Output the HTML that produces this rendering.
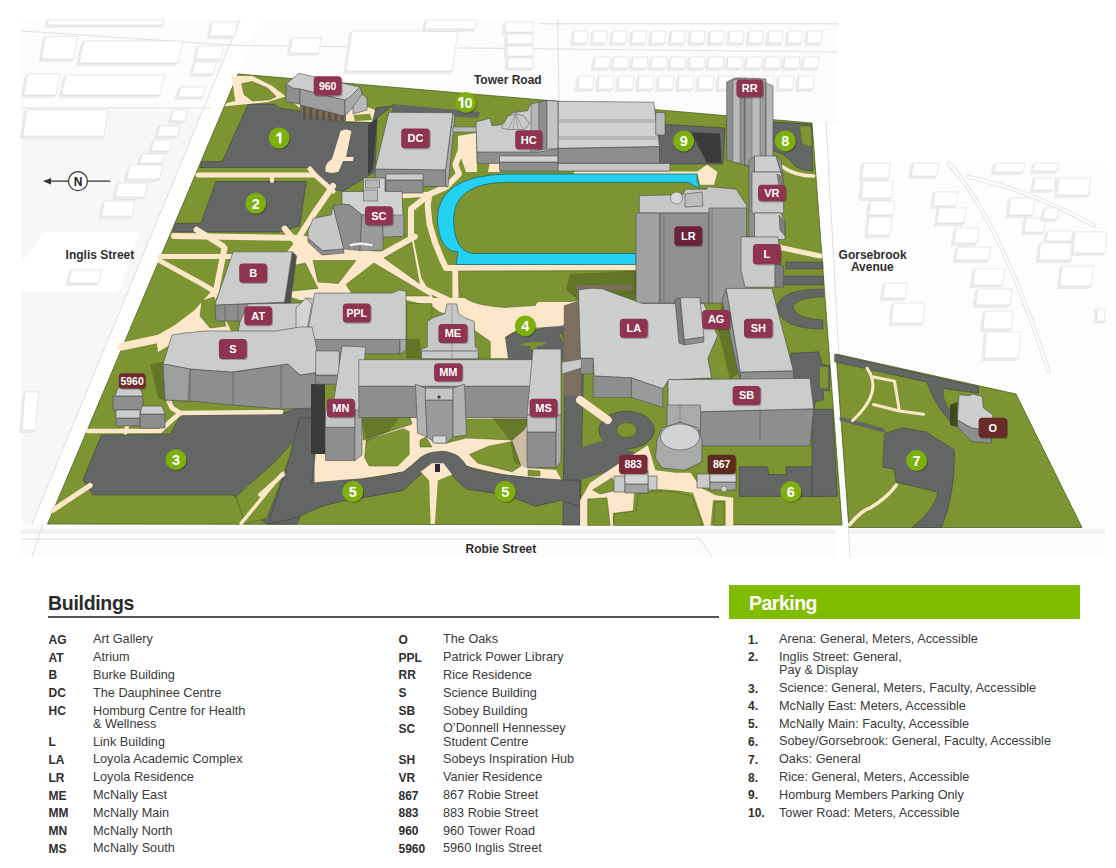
<!DOCTYPE html>
<html><head><meta charset="utf-8">
<style>
html,body{margin:0;padding:0;background:#fff;}
body{width:1116px;height:868px;position:relative;overflow:hidden;font-family:"Liberation Sans",sans-serif;color:#333;}
#map{position:absolute;left:0;top:0;}
.t{position:absolute;white-space:nowrap;font-size:12.7px;line-height:13.3px;color:#3a3a3a;}
.c{position:absolute;white-space:nowrap;font-size:12px;font-weight:bold;line-height:13.3px;color:#2e2e2e;}
.h{position:absolute;font-weight:bold;white-space:nowrap;}
</style></head><body>
<svg id="map" width="1116" height="575" viewBox="0 0 1116 575" font-family="'Liberation Sans', sans-serif">
<!--MAP-->
<rect x="22" y="20" width="1083" height="537" rx="0" fill="#f7f7f7"/>
<rect x="838" y="0" width="280" height="163" rx="0" fill="#ffffff"/>
<polygon points="812,125 838,125 838,163 826,163" fill="#ffffff"/>
<polygon points="22,20 838,20 838,125 22,109" fill="#fcfcfc"/>
<polygon points="828,163 1105,163 1105,557 850,557" fill="#fdfdfd"/>
<rect x="22" y="524" width="1083" height="33" rx="0" fill="#fcfcfc"/>
<path d="M22,530 L1105,530" fill="none" stroke="#dedede" stroke-width="0.8" stroke-linejoin="round" stroke-linecap="round"/>
<path d="M22,532.5 L1105,532.5" fill="none" stroke="#dedede" stroke-width="0.8" stroke-linejoin="round" stroke-linecap="round"/>
<path d="M22,539 L700,539" fill="none" stroke="#dedede" stroke-width="1" stroke-linejoin="round" stroke-linecap="round"/>
<path d="M700,539 L712,557" fill="none" stroke="#dedede" stroke-width="1" stroke-linejoin="round" stroke-linecap="round"/>
<path d="M43,524 L32,557" fill="none" stroke="#dedede" stroke-width="1" stroke-linejoin="round" stroke-linecap="round"/>
<polygon points="240,20 261,20 47.5,524 32,524" fill="#ffffff"/>
<path d="M240,20 L32,524" fill="none" stroke="#dedede" stroke-width="1" stroke-linejoin="round" stroke-linecap="round"/>
<polygon points="45,232 138,232 118,292 22,292 22,262" fill="#ffffff"/>
<path d="M22,31 L238,45.5" fill="none" stroke="#dedede" stroke-width="1" stroke-linejoin="round" stroke-linecap="round"/>
<path d="M22,108 L212,108" fill="none" stroke="#dedede" stroke-width="1" stroke-linejoin="round" stroke-linecap="round"/>
<path d="M238,45.5 L838,52" fill="none" stroke="#dedede" stroke-width="1" stroke-linejoin="round" stroke-linecap="round"/>
<path d="M540,23.8 L838,23.8" fill="none" stroke="#dedede" stroke-width="1" stroke-linejoin="round" stroke-linecap="round"/>
<path d="M557.7,20 L559,100" fill="none" stroke="#dedede" stroke-width="1" stroke-linejoin="round" stroke-linecap="round"/>
<polygon points="812,122 826,122 850,557 836,557" fill="#ffffff"/>
<path d="M826,122 L850,557" fill="none" stroke="#dedede" stroke-width="1" stroke-linejoin="round" stroke-linecap="round"/>
<path d="M948.6,162.9 Q1000,220 1048.6,371.4" fill="none" stroke="#dedede" stroke-width="4" stroke-linejoin="round" stroke-linecap="round"/>
<path d="M948.6,162.9 Q1000,220 1048.6,371.4" fill="none" stroke="#ffffff" stroke-width="2.4" stroke-linejoin="round" stroke-linecap="round"/>
<path d="M968.6,177 Q1030,190 1094,225.7" fill="none" stroke="#dedede" stroke-width="4" stroke-linejoin="round" stroke-linecap="round"/>
<path d="M968.6,177 Q1030,190 1094,225.7" fill="none" stroke="#ffffff" stroke-width="2.4" stroke-linejoin="round" stroke-linecap="round"/>
<polygon points="48,20 45.5,22.5 45.5,27.5 160.5,27.5 163,25 48,25" fill="#ededed" stroke="#dedede" stroke-width="0.5" stroke-linejoin="round"/>
<polygon points="48,20 163,20 163,25 48,25" fill="#ffffff" stroke="#dedede" stroke-width="0.7" stroke-linejoin="round"/>
<polygon points="45.5,36.5 43.0,39.0 39.0,61.5 71.3,61.5 73.8,59 41.5,59" fill="#ededed" stroke="#dedede" stroke-width="0.5" stroke-linejoin="round"/>
<polygon points="45.5,36.5 77.8,36.5 73.8,59 41.5,59" fill="#ffffff" stroke="#dedede" stroke-width="0.7" stroke-linejoin="round"/>
<polygon points="84,41 81.5,43.5 76.5,65.5 175.5,65.5 178,63 79,63" fill="#ededed" stroke="#dedede" stroke-width="0.5" stroke-linejoin="round"/>
<polygon points="84,41 183,41 178,63 79,63" fill="#ffffff" stroke="#dedede" stroke-width="0.7" stroke-linejoin="round"/>
<polygon points="27.6,74 25.1,76.5 21.1,97.5 53.5,97.5 56,95 23.6,95" fill="#ededed" stroke="#dedede" stroke-width="0.5" stroke-linejoin="round"/>
<polygon points="27.6,74 60,74 56,95 23.6,95" fill="#ffffff" stroke="#dedede" stroke-width="0.7" stroke-linejoin="round"/>
<polygon points="66.2,75 63.7,77.5 58.7,97.5 157.3,97.5 159.8,95 61.2,95" fill="#ededed" stroke="#dedede" stroke-width="0.5" stroke-linejoin="round"/>
<polygon points="66.2,75 164.8,75 159.8,95 61.2,95" fill="#ffffff" stroke="#dedede" stroke-width="0.7" stroke-linejoin="round"/>
<polygon points="198.6,46 196.1,48.5 193.1,61.5 218.2,61.5 220.7,59 195.6,59" fill="#ededed" stroke="#dedede" stroke-width="0.5" stroke-linejoin="round"/>
<polygon points="198.6,46 223.7,46 220.7,59 195.6,59" fill="#ffffff" stroke="#dedede" stroke-width="0.7" stroke-linejoin="round"/>
<polygon points="195,62 192.5,64.5 189.5,76.5 211.0,76.5 213.5,74 192,74" fill="#ededed" stroke="#dedede" stroke-width="0.5" stroke-linejoin="round"/>
<polygon points="195,62 216.5,62 213.5,74 192,74" fill="#ffffff" stroke="#dedede" stroke-width="0.7" stroke-linejoin="round"/>
<polygon points="180.7,87 178.2,89.5 175.2,99.5 200.3,99.5 202.8,97 177.7,97" fill="#ededed" stroke="#dedede" stroke-width="0.5" stroke-linejoin="round"/>
<polygon points="180.7,87 205.8,87 202.8,97 177.7,97" fill="#ffffff" stroke="#dedede" stroke-width="0.7" stroke-linejoin="round"/>
<polygon points="173.5,110 171.0,112.5 168.0,123.5 182.4,123.5 184.9,121 170.5,121" fill="#ededed" stroke="#dedede" stroke-width="0.5" stroke-linejoin="round"/>
<polygon points="173.5,110 187.9,110 184.9,121 170.5,121" fill="#ffffff" stroke="#dedede" stroke-width="0.7" stroke-linejoin="round"/>
<polygon points="165.4,126 162.9,128.5 160.9,136.5 175.2,136.5 177.7,134 163.4,134" fill="#ededed" stroke="#dedede" stroke-width="0.5" stroke-linejoin="round"/>
<polygon points="165.4,126 179.7,126 177.7,134 163.4,134" fill="#ffffff" stroke="#dedede" stroke-width="0.7" stroke-linejoin="round"/>
<polygon points="26.8,110 24.3,112.5 20.3,138.5 101.5,138.5 104,136 22.8,136" fill="#ededed" stroke="#dedede" stroke-width="0.5" stroke-linejoin="round"/>
<polygon points="26.8,110 108,110 104,136 22.8,136" fill="#ffffff" stroke="#dedede" stroke-width="0.7" stroke-linejoin="round"/>
<polygon points="160,126 157.5,128.5 154.5,138.5 174.9,138.5 177.4,136 157,136" fill="#ededed" stroke="#dedede" stroke-width="0.5" stroke-linejoin="round"/>
<polygon points="160,126 180.4,126 177.4,136 157,136" fill="#ffffff" stroke="#dedede" stroke-width="0.7" stroke-linejoin="round"/>
<polygon points="153.8,140 151.3,142.5 148.3,153.5 167.3,153.5 169.8,151 150.8,151" fill="#ededed" stroke="#dedede" stroke-width="0.5" stroke-linejoin="round"/>
<polygon points="153.8,140 172.8,140 169.8,151 150.8,151" fill="#ffffff" stroke="#dedede" stroke-width="0.7" stroke-linejoin="round"/>
<polygon points="142.4,154 139.9,156.5 136.9,165.5 159.7,165.5 162.2,163 139.4,163" fill="#ededed" stroke="#dedede" stroke-width="0.5" stroke-linejoin="round"/>
<polygon points="142.4,154 165.2,154 162.2,163 139.4,163" fill="#ffffff" stroke="#dedede" stroke-width="0.7" stroke-linejoin="round"/>
<polygon points="129.7,165 127.19999999999999,167.5 124.2,181.5 157.2,181.5 159.7,179 126.7,179" fill="#ededed" stroke="#dedede" stroke-width="0.5" stroke-linejoin="round"/>
<polygon points="129.7,165 162.7,165 159.7,179 126.7,179" fill="#ffffff" stroke="#dedede" stroke-width="0.7" stroke-linejoin="round"/>
<polygon points="118.3,183 115.8,185.5 112.8,199.5 142.0,199.5 144.5,197 115.3,197" fill="#ededed" stroke="#dedede" stroke-width="0.5" stroke-linejoin="round"/>
<polygon points="118.3,183 147.5,183 144.5,197 115.3,197" fill="#ffffff" stroke="#dedede" stroke-width="0.7" stroke-linejoin="round"/>
<polygon points="104.4,201 101.9,203.5 98.9,218.5 129.3,218.5 131.8,216 101.4,216" fill="#ededed" stroke="#dedede" stroke-width="0.5" stroke-linejoin="round"/>
<polygon points="104.4,201 134.8,201 131.8,216 101.4,216" fill="#ffffff" stroke="#dedede" stroke-width="0.7" stroke-linejoin="round"/>
<polygon points="71.4,270 68.9,272.5 65.9,285.5 96.3,285.5 98.8,283 68.4,283" fill="#ededed" stroke="#dedede" stroke-width="0.5" stroke-linejoin="round"/>
<polygon points="71.4,270 101.8,270 98.8,283 68.4,283" fill="#ffffff" stroke="#dedede" stroke-width="0.7" stroke-linejoin="round"/>
<polygon points="25,392 22.5,394.5 19.5,432.5 33.0,432.5 35.5,430 22,430" fill="#ededed" stroke="#dedede" stroke-width="0.5" stroke-linejoin="round"/>
<polygon points="25,392 38.5,392 35.5,430 22,430" fill="#ffffff" stroke="#dedede" stroke-width="0.7" stroke-linejoin="round"/>
<polygon points="212,22 209.5,24.5 207.5,38.5 232.5,38.5 235,36 210,36" fill="#ededed" stroke="#dedede" stroke-width="0.5" stroke-linejoin="round"/>
<polygon points="212,22 237,22 235,36 210,36" fill="#ffffff" stroke="#dedede" stroke-width="0.7" stroke-linejoin="round"/>
<polygon points="292,38 289.5,40.5 287.5,55.5 316.5,55.5 319,53 290,53" fill="#ededed" stroke="#dedede" stroke-width="0.5" stroke-linejoin="round"/>
<polygon points="292,38 321,38 319,53 290,53" fill="#ffffff" stroke="#dedede" stroke-width="0.7" stroke-linejoin="round"/>
<polygon points="352,31 349.5,33.5 343.5,73.5 449.5,73.5 452,71 346,71" fill="#ededed" stroke="#dedede" stroke-width="0.5" stroke-linejoin="round"/>
<polygon points="352,31 458,31 452,71 346,71" fill="#ffffff" stroke="#dedede" stroke-width="0.7" stroke-linejoin="round"/>
<polygon points="426.5,20 424.0,22.5 422.0,31.5 472.5,31.5 475,29 424.5,29" fill="#ededed" stroke="#dedede" stroke-width="0.5" stroke-linejoin="round"/>
<polygon points="426.5,20 477,20 475,29 424.5,29" fill="#ffffff" stroke="#dedede" stroke-width="0.7" stroke-linejoin="round"/>
<polygon points="505.5,22 503.0,24.5 503.0,34.5 530.5,34.5 533,32 505.5,32" fill="#ededed" stroke="#dedede" stroke-width="0.5" stroke-linejoin="round"/>
<polygon points="505.5,22 533,22 533,32 505.5,32" fill="#ffffff" stroke="#dedede" stroke-width="0.7" stroke-linejoin="round"/>
<polygon points="507,34 504.5,36.5 504.5,46.5 530.5,46.5 533,44 507,44" fill="#ededed" stroke="#dedede" stroke-width="0.5" stroke-linejoin="round"/>
<polygon points="507,34 533,34 533,44 507,44" fill="#ffffff" stroke="#dedede" stroke-width="0.7" stroke-linejoin="round"/>
<polygon points="507,46 504.5,48.5 504.5,58.5 530.5,58.5 533,56 507,56" fill="#ededed" stroke="#dedede" stroke-width="0.5" stroke-linejoin="round"/>
<polygon points="507,46 533,46 533,56 507,56" fill="#ffffff" stroke="#dedede" stroke-width="0.7" stroke-linejoin="round"/>
<polygon points="508,58 505.5,60.5 505.5,70.5 530.5,70.5 533,68 508,68" fill="#ededed" stroke="#dedede" stroke-width="0.5" stroke-linejoin="round"/>
<polygon points="508,58 533,58 533,68 508,68" fill="#ffffff" stroke="#dedede" stroke-width="0.7" stroke-linejoin="round"/>
<polygon points="574.0,31 571.5,33.5 570.5,45.5 584.5,45.5 587.0,43 573.0,43" fill="#ededed" stroke="#dedede" stroke-width="0.5" stroke-linejoin="round"/>
<polygon points="574.0,31 588.0,31 587.0,43 573.0,43" fill="#ffffff" stroke="#dedede" stroke-width="0.7" stroke-linejoin="round"/>
<polygon points="593.5,31 591.0,33.5 590.0,45.5 604.0,45.5 606.5,43 592.5,43" fill="#ededed" stroke="#dedede" stroke-width="0.5" stroke-linejoin="round"/>
<polygon points="593.5,31 607.5,31 606.5,43 592.5,43" fill="#ffffff" stroke="#dedede" stroke-width="0.7" stroke-linejoin="round"/>
<polygon points="613.0,31 610.5,33.5 609.5,45.5 623.5,45.5 626.0,43 612.0,43" fill="#ededed" stroke="#dedede" stroke-width="0.5" stroke-linejoin="round"/>
<polygon points="613.0,31 627.0,31 626.0,43 612.0,43" fill="#ffffff" stroke="#dedede" stroke-width="0.7" stroke-linejoin="round"/>
<polygon points="632.5,31 630.0,33.5 629.0,45.5 643.0,45.5 645.5,43 631.5,43" fill="#ededed" stroke="#dedede" stroke-width="0.5" stroke-linejoin="round"/>
<polygon points="632.5,31 646.5,31 645.5,43 631.5,43" fill="#ffffff" stroke="#dedede" stroke-width="0.7" stroke-linejoin="round"/>
<polygon points="652.0,31 649.5,33.5 648.5,45.5 662.5,45.5 665.0,43 651.0,43" fill="#ededed" stroke="#dedede" stroke-width="0.5" stroke-linejoin="round"/>
<polygon points="652.0,31 666.0,31 665.0,43 651.0,43" fill="#ffffff" stroke="#dedede" stroke-width="0.7" stroke-linejoin="round"/>
<polygon points="671.5,31 669.0,33.5 668.0,45.5 682.0,45.5 684.5,43 670.5,43" fill="#ededed" stroke="#dedede" stroke-width="0.5" stroke-linejoin="round"/>
<polygon points="671.5,31 685.5,31 684.5,43 670.5,43" fill="#ffffff" stroke="#dedede" stroke-width="0.7" stroke-linejoin="round"/>
<polygon points="691.0,31 688.5,33.5 687.5,45.5 701.5,45.5 704.0,43 690.0,43" fill="#ededed" stroke="#dedede" stroke-width="0.5" stroke-linejoin="round"/>
<polygon points="691.0,31 705.0,31 704.0,43 690.0,43" fill="#ffffff" stroke="#dedede" stroke-width="0.7" stroke-linejoin="round"/>
<polygon points="710.5,31 708.0,33.5 707.0,45.5 721.0,45.5 723.5,43 709.5,43" fill="#ededed" stroke="#dedede" stroke-width="0.5" stroke-linejoin="round"/>
<polygon points="710.5,31 724.5,31 723.5,43 709.5,43" fill="#ffffff" stroke="#dedede" stroke-width="0.7" stroke-linejoin="round"/>
<polygon points="730.0,31 727.5,33.5 726.5,45.5 740.5,45.5 743.0,43 729.0,43" fill="#ededed" stroke="#dedede" stroke-width="0.5" stroke-linejoin="round"/>
<polygon points="730.0,31 744.0,31 743.0,43 729.0,43" fill="#ffffff" stroke="#dedede" stroke-width="0.7" stroke-linejoin="round"/>
<polygon points="749.5,31 747.0,33.5 746.0,45.5 760.0,45.5 762.5,43 748.5,43" fill="#ededed" stroke="#dedede" stroke-width="0.5" stroke-linejoin="round"/>
<polygon points="749.5,31 763.5,31 762.5,43 748.5,43" fill="#ffffff" stroke="#dedede" stroke-width="0.7" stroke-linejoin="round"/>
<polygon points="769.0,31 766.5,33.5 765.5,45.5 779.5,45.5 782.0,43 768.0,43" fill="#ededed" stroke="#dedede" stroke-width="0.5" stroke-linejoin="round"/>
<polygon points="769.0,31 783.0,31 782.0,43 768.0,43" fill="#ffffff" stroke="#dedede" stroke-width="0.7" stroke-linejoin="round"/>
<polygon points="788.5,31 786.0,33.5 785.0,45.5 799.0,45.5 801.5,43 787.5,43" fill="#ededed" stroke="#dedede" stroke-width="0.5" stroke-linejoin="round"/>
<polygon points="788.5,31 802.5,31 801.5,43 787.5,43" fill="#ffffff" stroke="#dedede" stroke-width="0.7" stroke-linejoin="round"/>
<polygon points="808.0,31 805.5,33.5 804.5,45.5 818.5,45.5 821.0,43 807.0,43" fill="#ededed" stroke="#dedede" stroke-width="0.5" stroke-linejoin="round"/>
<polygon points="808.0,31 822.0,31 821.0,43 807.0,43" fill="#ffffff" stroke="#dedede" stroke-width="0.7" stroke-linejoin="round"/>
<polygon points="595,57 592.5,59.5 591.5,70.5 606.5,70.5 609,68 594,68" fill="#ededed" stroke="#dedede" stroke-width="0.5" stroke-linejoin="round"/>
<polygon points="595,57 610,57 609,68 594,68" fill="#ffffff" stroke="#dedede" stroke-width="0.7" stroke-linejoin="round"/>
<polygon points="614,57 611.5,59.5 610.5,70.5 625.5,70.5 628,68 613,68" fill="#ededed" stroke="#dedede" stroke-width="0.5" stroke-linejoin="round"/>
<polygon points="614,57 629,57 628,68 613,68" fill="#ffffff" stroke="#dedede" stroke-width="0.7" stroke-linejoin="round"/>
<polygon points="633,57 630.5,59.5 629.5,70.5 644.5,70.5 647,68 632,68" fill="#ededed" stroke="#dedede" stroke-width="0.5" stroke-linejoin="round"/>
<polygon points="633,57 648,57 647,68 632,68" fill="#ffffff" stroke="#dedede" stroke-width="0.7" stroke-linejoin="round"/>
<polygon points="652,57 649.5,59.5 648.5,70.5 663.5,70.5 666,68 651,68" fill="#ededed" stroke="#dedede" stroke-width="0.5" stroke-linejoin="round"/>
<polygon points="652,57 667,57 666,68 651,68" fill="#ffffff" stroke="#dedede" stroke-width="0.7" stroke-linejoin="round"/>
<polygon points="671,57 668.5,59.5 667.5,70.5 682.5,70.5 685,68 670,68" fill="#ededed" stroke="#dedede" stroke-width="0.5" stroke-linejoin="round"/>
<polygon points="671,57 686,57 685,68 670,68" fill="#ffffff" stroke="#dedede" stroke-width="0.7" stroke-linejoin="round"/>
<polygon points="690,57 687.5,59.5 686.5,70.5 701.5,70.5 704,68 689,68" fill="#ededed" stroke="#dedede" stroke-width="0.5" stroke-linejoin="round"/>
<polygon points="690,57 705,57 704,68 689,68" fill="#ffffff" stroke="#dedede" stroke-width="0.7" stroke-linejoin="round"/>
<polygon points="709,57 706.5,59.5 705.5,70.5 720.5,70.5 723,68 708,68" fill="#ededed" stroke="#dedede" stroke-width="0.5" stroke-linejoin="round"/>
<polygon points="709,57 724,57 723,68 708,68" fill="#ffffff" stroke="#dedede" stroke-width="0.7" stroke-linejoin="round"/>
<polygon points="728,57 725.5,59.5 724.5,70.5 739.5,70.5 742,68 727,68" fill="#ededed" stroke="#dedede" stroke-width="0.5" stroke-linejoin="round"/>
<polygon points="728,57 743,57 742,68 727,68" fill="#ffffff" stroke="#dedede" stroke-width="0.7" stroke-linejoin="round"/>
<polygon points="747,57 744.5,59.5 743.5,70.5 758.5,70.5 761,68 746,68" fill="#ededed" stroke="#dedede" stroke-width="0.5" stroke-linejoin="round"/>
<polygon points="747,57 762,57 761,68 746,68" fill="#ffffff" stroke="#dedede" stroke-width="0.7" stroke-linejoin="round"/>
<polygon points="766,57 763.5,59.5 762.5,70.5 777.5,70.5 780,68 765,68" fill="#ededed" stroke="#dedede" stroke-width="0.5" stroke-linejoin="round"/>
<polygon points="766,57 781,57 780,68 765,68" fill="#ffffff" stroke="#dedede" stroke-width="0.7" stroke-linejoin="round"/>
<polygon points="785,57 782.5,59.5 781.5,70.5 796.5,70.5 799,68 784,68" fill="#ededed" stroke="#dedede" stroke-width="0.5" stroke-linejoin="round"/>
<polygon points="785,57 800,57 799,68 784,68" fill="#ffffff" stroke="#dedede" stroke-width="0.7" stroke-linejoin="round"/>
<polygon points="804,57 801.5,59.5 800.5,70.5 815.5,70.5 818,68 803,68" fill="#ededed" stroke="#dedede" stroke-width="0.5" stroke-linejoin="round"/>
<polygon points="804,57 819,57 818,68 803,68" fill="#ffffff" stroke="#dedede" stroke-width="0.7" stroke-linejoin="round"/>
<polygon points="579,76 576.5,78.5 575.5,91.5 590.5,91.5 593,89 578,89" fill="#ededed" stroke="#dedede" stroke-width="0.5" stroke-linejoin="round"/>
<polygon points="579,76 594,76 593,89 578,89" fill="#ffffff" stroke="#dedede" stroke-width="0.7" stroke-linejoin="round"/>
<polygon points="599,76 596.5,78.5 595.5,91.5 610.5,91.5 613,89 598,89" fill="#ededed" stroke="#dedede" stroke-width="0.5" stroke-linejoin="round"/>
<polygon points="599,76 614,76 613,89 598,89" fill="#ffffff" stroke="#dedede" stroke-width="0.7" stroke-linejoin="round"/>
<polygon points="619,76 616.5,78.5 615.5,91.5 630.5,91.5 633,89 618,89" fill="#ededed" stroke="#dedede" stroke-width="0.5" stroke-linejoin="round"/>
<polygon points="619,76 634,76 633,89 618,89" fill="#ffffff" stroke="#dedede" stroke-width="0.7" stroke-linejoin="round"/>
<polygon points="639,76 636.5,78.5 635.5,91.5 650.5,91.5 653,89 638,89" fill="#ededed" stroke="#dedede" stroke-width="0.5" stroke-linejoin="round"/>
<polygon points="639,76 654,76 653,89 638,89" fill="#ffffff" stroke="#dedede" stroke-width="0.7" stroke-linejoin="round"/>
<polygon points="659,76 656.5,78.5 655.5,91.5 670.5,91.5 673,89 658,89" fill="#ededed" stroke="#dedede" stroke-width="0.5" stroke-linejoin="round"/>
<polygon points="659,76 674,76 673,89 658,89" fill="#ffffff" stroke="#dedede" stroke-width="0.7" stroke-linejoin="round"/>
<polygon points="679,76 676.5,78.5 675.5,91.5 690.5,91.5 693,89 678,89" fill="#ededed" stroke="#dedede" stroke-width="0.5" stroke-linejoin="round"/>
<polygon points="679,76 694,76 693,89 678,89" fill="#ffffff" stroke="#dedede" stroke-width="0.7" stroke-linejoin="round"/>
<polygon points="699,76 696.5,78.5 695.5,91.5 710.5,91.5 713,89 698,89" fill="#ededed" stroke="#dedede" stroke-width="0.5" stroke-linejoin="round"/>
<polygon points="699,76 714,76 713,89 698,89" fill="#ffffff" stroke="#dedede" stroke-width="0.7" stroke-linejoin="round"/>
<polygon points="719,76 716.5,78.5 715.5,91.5 730.5,91.5 733,89 718,89" fill="#ededed" stroke="#dedede" stroke-width="0.5" stroke-linejoin="round"/>
<polygon points="719,76 734,76 733,89 718,89" fill="#ffffff" stroke="#dedede" stroke-width="0.7" stroke-linejoin="round"/>
<polygon points="739,76 736.5,78.5 735.5,91.5 750.5,91.5 753,89 738,89" fill="#ededed" stroke="#dedede" stroke-width="0.5" stroke-linejoin="round"/>
<polygon points="739,76 754,76 753,89 738,89" fill="#ffffff" stroke="#dedede" stroke-width="0.7" stroke-linejoin="round"/>
<polygon points="759,76 756.5,78.5 755.5,91.5 770.5,91.5 773,89 758,89" fill="#ededed" stroke="#dedede" stroke-width="0.5" stroke-linejoin="round"/>
<polygon points="759,76 774,76 773,89 758,89" fill="#ffffff" stroke="#dedede" stroke-width="0.7" stroke-linejoin="round"/>
<polygon points="779,76 776.5,78.5 775.5,91.5 790.5,91.5 793,89 778,89" fill="#ededed" stroke="#dedede" stroke-width="0.5" stroke-linejoin="round"/>
<polygon points="779,76 794,76 793,89 778,89" fill="#ffffff" stroke="#dedede" stroke-width="0.7" stroke-linejoin="round"/>
<polygon points="799,76 796.5,78.5 795.5,91.5 810.5,91.5 813,89 798,89" fill="#ededed" stroke="#dedede" stroke-width="0.5" stroke-linejoin="round"/>
<polygon points="799,76 814,76 813,89 798,89" fill="#ffffff" stroke="#dedede" stroke-width="0.7" stroke-linejoin="round"/>
<polygon points="863.4,163 860.9,165.5 858.9,180.5 886.1,180.5 888.6,178 861.4,178" fill="#ededed" stroke="#dedede" stroke-width="0.5" stroke-linejoin="round"/>
<polygon points="863.4,163 890.6,163 888.6,178 861.4,178" fill="#ffffff" stroke="#dedede" stroke-width="0.7" stroke-linejoin="round"/>
<polygon points="863,181 860.5,183.5 858.5,200.5 888.9,200.5 891.4,198 861,198" fill="#ededed" stroke="#dedede" stroke-width="0.5" stroke-linejoin="round"/>
<polygon points="863,181 893.4,181 891.4,198 861,198" fill="#ffffff" stroke="#dedede" stroke-width="0.7" stroke-linejoin="round"/>
<polygon points="870.6,201 868.1,203.5 866.1,217.5 890.4,217.5 892.9,215 868.6,215" fill="#ededed" stroke="#dedede" stroke-width="0.5" stroke-linejoin="round"/>
<polygon points="870.6,201 894.9,201 892.9,215 868.6,215" fill="#ffffff" stroke="#dedede" stroke-width="0.7" stroke-linejoin="round"/>
<polygon points="869.1,217 866.6,219.5 864.6,237.5 887.5,237.5 890,235 867.1,235" fill="#ededed" stroke="#dedede" stroke-width="0.5" stroke-linejoin="round"/>
<polygon points="869.1,217 892,217 890,235 867.1,235" fill="#ffffff" stroke="#dedede" stroke-width="0.7" stroke-linejoin="round"/>
<polygon points="913.4,163 910.9,165.5 908.9,178.5 934.5,178.5 937,176 911.4,176" fill="#ededed" stroke="#dedede" stroke-width="0.5" stroke-linejoin="round"/>
<polygon points="913.4,163 939,163 937,176 911.4,176" fill="#ffffff" stroke="#dedede" stroke-width="0.7" stroke-linejoin="round"/>
<polygon points="934.9,192 932.4,194.5 930.4,208.5 953.2,208.5 955.7,206 932.9,206" fill="#ededed" stroke="#dedede" stroke-width="0.5" stroke-linejoin="round"/>
<polygon points="934.9,192 957.7,192 955.7,206 932.9,206" fill="#ffffff" stroke="#dedede" stroke-width="0.7" stroke-linejoin="round"/>
<polygon points="939,208 936.5,210.5 934.5,225.5 961.5,225.5 964,223 937,223" fill="#ededed" stroke="#dedede" stroke-width="0.5" stroke-linejoin="round"/>
<polygon points="939,208 966,208 964,223 937,223" fill="#ffffff" stroke="#dedede" stroke-width="0.7" stroke-linejoin="round"/>
<polygon points="956,228 953.5,230.5 951.5,245.5 974.5,245.5 977,243 954,243" fill="#ededed" stroke="#dedede" stroke-width="0.5" stroke-linejoin="round"/>
<polygon points="956,228 979,228 977,243 954,243" fill="#ffffff" stroke="#dedede" stroke-width="0.7" stroke-linejoin="round"/>
<polygon points="957.7,247 955.2,249.5 953.2,262.5 986.1,262.5 988.6,260 955.7,260" fill="#ededed" stroke="#dedede" stroke-width="0.5" stroke-linejoin="round"/>
<polygon points="957.7,247 990.6,247 988.6,260 955.7,260" fill="#ffffff" stroke="#dedede" stroke-width="0.7" stroke-linejoin="round"/>
<polygon points="996,163 993.5,165.5 991.5,174.5 1020.4,174.5 1022.9,172 994,172" fill="#ededed" stroke="#dedede" stroke-width="0.5" stroke-linejoin="round"/>
<polygon points="996,163 1024.9,163 1022.9,172 994,172" fill="#ffffff" stroke="#dedede" stroke-width="0.7" stroke-linejoin="round"/>
<polygon points="1034.9,163 1032.4,165.5 1030.4,173.5 1054.5,173.5 1057,171 1032.9,171" fill="#ededed" stroke="#dedede" stroke-width="0.5" stroke-linejoin="round"/>
<polygon points="1034.9,163 1059,163 1057,171 1032.9,171" fill="#ffffff" stroke="#dedede" stroke-width="0.7" stroke-linejoin="round"/>
<polygon points="1034.9,178 1032.4,180.5 1030.4,192.5 1051.5,192.5 1054,190 1032.9,190" fill="#ededed" stroke="#dedede" stroke-width="0.5" stroke-linejoin="round"/>
<polygon points="1034.9,178 1056,178 1054,190 1032.9,190" fill="#ffffff" stroke="#dedede" stroke-width="0.7" stroke-linejoin="round"/>
<polygon points="1059,178 1056.5,180.5 1054.5,197.5 1086.1,197.5 1088.6,195 1057,195" fill="#ededed" stroke="#dedede" stroke-width="0.5" stroke-linejoin="round"/>
<polygon points="1059,178 1090.6,178 1088.6,195 1057,195" fill="#ffffff" stroke="#dedede" stroke-width="0.7" stroke-linejoin="round"/>
<polygon points="1010.6,198 1008.1,200.5 1006.1,217.5 1030.4,217.5 1032.9,215 1008.6,215" fill="#ededed" stroke="#dedede" stroke-width="0.5" stroke-linejoin="round"/>
<polygon points="1010.6,198 1034.9,198 1032.9,215 1008.6,215" fill="#ffffff" stroke="#dedede" stroke-width="0.7" stroke-linejoin="round"/>
<polygon points="1026,218 1023.5,220.5 1021.5,234.5 1041.5,234.5 1044,232 1024,232" fill="#ededed" stroke="#dedede" stroke-width="0.5" stroke-linejoin="round"/>
<polygon points="1026,218 1046,218 1044,232 1024,232" fill="#ffffff" stroke="#dedede" stroke-width="0.7" stroke-linejoin="round"/>
<polygon points="1044.9,208 1042.4,210.5 1040.4,221.5 1054.5,221.5 1057,219 1042.9,219" fill="#ededed" stroke="#dedede" stroke-width="0.5" stroke-linejoin="round"/>
<polygon points="1044.9,208 1059,208 1057,219 1042.9,219" fill="#ffffff" stroke="#dedede" stroke-width="0.7" stroke-linejoin="round"/>
<polygon points="1047.7,231 1045.2,233.5 1043.2,243.5 1068.9,243.5 1071.4,241 1045.7,241" fill="#ededed" stroke="#dedede" stroke-width="0.5" stroke-linejoin="round"/>
<polygon points="1047.7,231 1073.4,231 1071.4,241 1045.7,241" fill="#ffffff" stroke="#dedede" stroke-width="0.7" stroke-linejoin="round"/>
<polygon points="1040.6,243 1038.1,245.5 1036.1,262.5 1068.9,262.5 1071.4,260 1038.6,260" fill="#ededed" stroke="#dedede" stroke-width="0.5" stroke-linejoin="round"/>
<polygon points="1040.6,243 1073.4,243 1071.4,260 1038.6,260" fill="#ffffff" stroke="#dedede" stroke-width="0.7" stroke-linejoin="round"/>
<polygon points="1074.9,232 1072.4,234.5 1070.4,255.5 1102.5,255.5 1105,253 1072.9,253" fill="#ededed" stroke="#dedede" stroke-width="0.5" stroke-linejoin="round"/>
<polygon points="1074.9,232 1107,232 1105,253 1072.9,253" fill="#ffffff" stroke="#dedede" stroke-width="0.7" stroke-linejoin="round"/>
<polygon points="884.9,283 882.4,285.5 880.4,300.5 903.2,300.5 905.7,298 882.9,298" fill="#ededed" stroke="#dedede" stroke-width="0.5" stroke-linejoin="round"/>
<polygon points="884.9,283 907.7,283 905.7,298 882.9,298" fill="#ffffff" stroke="#dedede" stroke-width="0.7" stroke-linejoin="round"/>
<polygon points="893.4,303 890.9,305.5 888.9,325.5 920.4,325.5 922.9,323 891.4,323" fill="#ededed" stroke="#dedede" stroke-width="0.5" stroke-linejoin="round"/>
<polygon points="893.4,303 924.9,303 922.9,323 891.4,323" fill="#ffffff" stroke="#dedede" stroke-width="0.7" stroke-linejoin="round"/>
<polygon points="974.9,269 972.4,271.5 970.4,287.5 1000.4,287.5 1002.9,285 972.9,285" fill="#ededed" stroke="#dedede" stroke-width="0.5" stroke-linejoin="round"/>
<polygon points="974.9,269 1004.9,269 1002.9,285 972.9,285" fill="#ffffff" stroke="#dedede" stroke-width="0.7" stroke-linejoin="round"/>
<polygon points="977.7,289 975.2,291.5 973.2,307.5 1007.5,307.5 1010,305 975.7,305" fill="#ededed" stroke="#dedede" stroke-width="0.5" stroke-linejoin="round"/>
<polygon points="977.7,289 1012,289 1010,305 975.7,305" fill="#ffffff" stroke="#dedede" stroke-width="0.7" stroke-linejoin="round"/>
<polygon points="984.9,311 982.4,313.5 980.4,331.5 1008.9,331.5 1011.4,329 982.9,329" fill="#ededed" stroke="#dedede" stroke-width="0.5" stroke-linejoin="round"/>
<polygon points="984.9,311 1013.4,311 1011.4,329 982.9,329" fill="#ffffff" stroke="#dedede" stroke-width="0.7" stroke-linejoin="round"/>
<polygon points="986.3,332 983.8,334.5 981.8,360.5 1016.1,360.5 1018.6,358 984.3,358" fill="#ededed" stroke="#dedede" stroke-width="0.5" stroke-linejoin="round"/>
<polygon points="986.3,332 1020.6,332 1018.6,358 984.3,358" fill="#ffffff" stroke="#dedede" stroke-width="0.7" stroke-linejoin="round"/>
<polygon points="1062,266 1059.5,268.5 1057.5,288.5 1088.9,288.5 1091.4,286 1060,286" fill="#ededed" stroke="#dedede" stroke-width="0.5" stroke-linejoin="round"/>
<polygon points="1062,266 1093.4,266 1091.4,286 1060,286" fill="#ffffff" stroke="#dedede" stroke-width="0.7" stroke-linejoin="round"/>
<polygon points="1097,309 1094.5,311.5 1094.5,323.5 1102.5,323.5 1105,321 1097,321" fill="#ededed" stroke="#dedede" stroke-width="0.5" stroke-linejoin="round"/>
<polygon points="1097,309 1105,309 1105,321 1097,321" fill="#ffffff" stroke="#dedede" stroke-width="0.7" stroke-linejoin="round"/>
<polygon points="238,74 812,123 842,525 47.5,524" fill="#7c9431" stroke="#4d6320" stroke-width="0.8" stroke-linejoin="round"/>
<polygon points="836,354 1016,394 1082,527.5 849,527.5" fill="#7c9431" stroke="#4d6320" stroke-width="0.8" stroke-linejoin="round"/>
<polygon points="248.2,104.1 274,104.1 280.4,108.4 297.6,110.5 345,122.4 372,122.4 376,108 392,106 377,118 375,171.8 364.3,178.3 342.8,191.2 332,189 314.8,171.8 310,167.5 222.4,167.5 200,167.5 202,161.5 222.4,161.5" fill="#636665" stroke="#3f4242" stroke-width="0.6" stroke-linejoin="round"/>
<path d="M340.6,131 Q346,128 351.4,131 L346,157 L353.5,157 L353,161 L343,161 L338.5,171.8 Q332,174 325.6,171.8 Q324,164 332,159 Z" fill="#fce7ca"/>
<polygon points="215.9,181.5 306.2,181.5 299.8,225.6 280.4,232 203,232 173,232 175,223.4 200.9,223.4" fill="#636665" stroke="#3f4242" stroke-width="0.6" stroke-linejoin="round"/>
<polygon points="101.5,435 170.5,434 178,420 182.5,415.4 280.9,413.7 315.4,402.5 324,390 324,454 314,483 297,524 266,524 240,500 232.5,494.9 93,494.9 83,480" fill="#636665" stroke="#3f4242" stroke-width="0.6" stroke-linejoin="round"/>
<polygon points="310.3,425.8 303.3,461.2 288.7,460.3 267,518.2 245,523.8 236,497 246.4,487.1 275,462 295,440" fill="#7c9431" stroke="#4d6320" stroke-width="0.6" stroke-linejoin="round"/>
<polygon points="560,326 578,320 584,340 580,525 563,525 565,345" fill="#636665" stroke="#3f4242" stroke-width="0.6" stroke-linejoin="round"/>
<path d="M504.9,338.9 Q508,334 514.3,333.1 L535.2,330.2 Q545,328 551.5,325 L563.2,321.4 L577,318 L577,328 L566,330 Q558,333 559.7,336.6 Q562,341 566.7,350.6 L564.4,360 L508.4,360 Q506,348 504.9,338.9 Z" fill="#636665" stroke="#3f4242" stroke-width="0.6" stroke-linejoin="round" stroke-linecap="round"/>
<path d="M520,344 Q532,341 545.7,342.4 Q546,345.5 537,346 L536.4,349.4 L530.6,349.4 L530.6,346 Q521,346.5 520,344 Z" fill="#7c9431"/>
<ellipse cx="626.6" cy="430" rx="27.6" ry="18.8" fill="#636665" stroke="#3f4242" stroke-width="0.6"/>
<ellipse cx="626.6" cy="430" rx="10" ry="7.5" fill="#7c9431" stroke="#4d6320" stroke-width="0.6"/>
<polygon points="580,448 605,440 640,455 615,470 580,480" fill="#636665"/>
<polygon points="739.3,466.8 767.3,466.8 768.9,474.6 786,474.6 786,466.8 823.3,466.8 823.3,496.4 739.3,496.4" fill="#636665" stroke="#3f4242" stroke-width="0.6" stroke-linejoin="round"/>
<polygon points="790.7,353.3 818.6,351.8 821.8,364.2 829.5,365.8 829.5,390.6 823.3,390.6 823.3,400 815.5,401.5 814,409.3 832.6,409.3 837.3,496.4 812,496.4 812,409.3 805,400 792,381" fill="#636665" stroke="#3f4242" stroke-width="0.6" stroke-linejoin="round"/>
<polygon points="820,367 828,367 828,388 820,388" fill="#7c9431"/>
<path d="M786,262 L823,262 L823,269 L786,269 Z" fill="#636665" stroke="#3f4242" stroke-width="0.5" stroke-linejoin="round" stroke-linecap="round"/>
<path d="M773.5,276 L823.3,276 L823.3,285 L773.5,285 Z" fill="#636665" stroke="#3f4242" stroke-width="0.5" stroke-linejoin="round" stroke-linecap="round"/>
<path d="M823,289 Q780,289 777,307 Q780,329 823,329 L823,320 Q796,319 793,307 Q796,297 823,297 Z" fill="#636665" stroke="#3f4242" stroke-width="0.5" stroke-linejoin="round" stroke-linecap="round"/>
<path d="M769,121.7 L811.5,124.3 L812.8,171 Q800,170 795,166 Q788,158 783.6,154.8 L770.4,149.5 Z" fill="#636665" stroke="#3f4242" stroke-width="0.6" stroke-linejoin="round" stroke-linecap="round"/>
<polygon points="799.5,126 811,126 812,146.8 802,144" fill="#7c9431" stroke="#4d6320" stroke-width="0.5" stroke-linejoin="round"/>
<polygon points="659,124 725,128 723,164 659,164" fill="#636665" stroke="#3f4242" stroke-width="0.6" stroke-linejoin="round"/>
<polygon points="691,132.3 720,133.6 721.4,162.7 706.8,162.7" fill="#3a3c3c"/>
<polygon points="392,104 480,112 478,118 392,112" fill="#636665"/>
<path d="M884.8,433.5 L902.6,427.9 L926.8,432 L933.2,436.8 L954.2,449.7 Q956,490 941.6,527.5 L912,527.5 Q935,510 938,492 L896,482 L894.5,469 L883.2,467.4 Z" fill="#636665" stroke="#3f4242" stroke-width="0.6" stroke-linejoin="round" stroke-linecap="round"/>
<path d="M834.8,354.5 L978.4,386.8 L978.4,393.2 L943,388.4 Q941,405 957.4,417.4 L950,421 Q935,405 926.8,382 L834.8,361.8 Z" fill="#636665" stroke="#3f4242" stroke-width="0.6" stroke-linejoin="round" stroke-linecap="round"/>
<path d="M841.3,419 L883.2,430.3" fill="none" stroke="#636665" stroke-width="4" stroke-linejoin="round" stroke-linecap="round"/>
<polygon points="231,76.1 252.5,76.1 271.8,85.8 280.4,92.3 290,100 300,108 345,121 372,122 375,110 360,104 350,110 345,112 300,100 286.9,96 280.4,98 268,102 248.2,104.1 224.5,106.2 226.7,103 235.3,100.9 233.1,85.8" fill="#fce7ca"/>
<polygon points="241.7,83.7 252.5,81.5 267.5,88 276.1,96.6 269.7,99.8 252.5,100.9 243.9,94.4" fill="#7c9431" stroke="#4d6320" stroke-width="0.5" stroke-linejoin="round"/>
<polygon points="353.5,115 370,113.8 372,120 355,121" fill="#7c9431"/>
<path d="M198,175 L315,175 L333,191" fill="none" stroke="#fce7ca" stroke-width="5" stroke-linejoin="round" stroke-linecap="round"/>
<path d="M310,169 L315,175" fill="none" stroke="#fce7ca" stroke-width="5" stroke-linejoin="round" stroke-linecap="round"/>
<path d="M272,175 L272,181" fill="none" stroke="#fce7ca" stroke-width="4" stroke-linejoin="round" stroke-linecap="round"/>
<path d="M333,186 L315,212 L297,240" fill="none" stroke="#fce7ca" stroke-width="6" stroke-linejoin="round" stroke-linecap="round"/>
<path d="M174,236 L300,238 L379.6,256" fill="none" stroke="#fce7ca" stroke-width="6" stroke-linejoin="round" stroke-linecap="round"/>
<path d="M196.6,229.7 L222.4,245.8 L224.5,248 L216,291 L211.6,301.7" fill="none" stroke="#fce7ca" stroke-width="6" stroke-linejoin="round" stroke-linecap="round"/>
<path d="M160,256.6 L231,256.6" fill="none" stroke="#fce7ca" stroke-width="5" stroke-linejoin="round" stroke-linecap="round"/>
<path d="M160,260.9 L203,284.5 L213.8,291" fill="none" stroke="#fce7ca" stroke-width="5" stroke-linejoin="round" stroke-linecap="round"/>
<polygon points="211.6,291 216,300 232,333 200,337 175,342 158,352 156,336 175,325 194.4,310.3" fill="#fce7ca"/>
<polygon points="202,301 213.8,297 222,312 226,326 210,328 200,316" fill="#7c9431" stroke="#4d6320" stroke-width="0.5" stroke-linejoin="round"/>
<path d="M284.7,228.6 L306.2,254.4 L400,254.4" fill="none" stroke="#fce7ca" stroke-width="6" stroke-linejoin="round" stroke-linecap="round"/>
<path d="M460.9,150 L455.4,164.8 L459,174 L446,187 L429.5,194.3 L427.7,205.4 L429.5,223.8 L435,242.3 L442.4,260.7 L446,268 L455.4,268 L635,267" fill="none" stroke="#fce7ca" stroke-width="6" stroke-linejoin="round" stroke-linecap="round"/>
<path d="M429.5,194.3 L411,209 L411,242 L418.5,279 L429.5,297.6" fill="none" stroke="#fce7ca" stroke-width="6" stroke-linejoin="round" stroke-linecap="round"/>
<path d="M400,196 L425.8,194.3" fill="none" stroke="#fce7ca" stroke-width="5" stroke-linejoin="round" stroke-linecap="round"/>
<path d="M379.6,256 L414.8,236.7" fill="none" stroke="#fce7ca" stroke-width="6" stroke-linejoin="round" stroke-linecap="round"/>
<path d="M400,277 L455.4,303" fill="none" stroke="#fce7ca" stroke-width="5" stroke-linejoin="round" stroke-linecap="round"/>
<path d="M455.4,268 L455.4,300" fill="none" stroke="#fce7ca" stroke-width="6" stroke-linejoin="round" stroke-linecap="round"/>
<polygon points="490,161 500,160 500,172 488,172" fill="#fce7ca"/>
<path d="M458,136 L476,133 L477,172 L466,172 Q462,160 458,150 Z" fill="#fce7ca"/>
<polygon points="286,253 300,236 380,255 411,240 418,282 430,298 560,298 578,296 578,322 560,326 518,329 505,337 508,358 490,358 490,342 472,329 466,318 440,312 432,306 406,300 300,300 288,296" fill="#fce7ca"/>
<polygon points="313,260.5 356,260.5 338.3,283.4 318,282" fill="#7c9431" stroke="#4d6320" stroke-width="0.5" stroke-linejoin="round"/>
<polygon points="292.7,265.6 305.3,263 318,288.4 292.7,291" fill="#7c9431" stroke="#4d6320" stroke-width="0.5" stroke-linejoin="round"/>
<polygon points="346,284.6 373.8,263 429.5,296 353.5,296" fill="#7c9431" stroke="#4d6320" stroke-width="0.5" stroke-linejoin="round"/>
<polygon points="384,258 411.8,242 419.4,283.4" fill="#7c9431" stroke="#4d6320" stroke-width="0.5" stroke-linejoin="round"/>
<polygon points="406.7,303.6 432,303.6 432,358 406.7,358" fill="#7c9431" stroke="#4d6320" stroke-width="0.5" stroke-linejoin="round"/>
<polygon points="472.6,329 490.3,341.6 490.3,358 475,358" fill="#7c9431" stroke="#4d6320" stroke-width="0.5" stroke-linejoin="round"/>
<path d="M459,271 L635,271 L635,292 Q600,298 575,301 Q540,306 505,307.5 Q480,306 468,300 Q459,295 459,285 Z" fill="#7c9431" stroke="#4d6320" stroke-width="0.5" stroke-linejoin="round" stroke-linecap="round"/>
<path d="M87.7,431 L160,431 L172,420 L180,413 L281,412" fill="none" stroke="#fce7ca" stroke-width="4.5" stroke-linejoin="round" stroke-linecap="round"/>
<path d="M167,397 L172,408 L180,413" fill="none" stroke="#fce7ca" stroke-width="5" stroke-linejoin="round" stroke-linecap="round"/>
<path d="M52.6,510.4 L90.2,485.3" fill="none" stroke="#fce7ca" stroke-width="5" stroke-linejoin="round" stroke-linecap="round"/>
<path d="M241.2,523.4 L280.9,475 L284,473" fill="none" stroke="#fce7ca" stroke-width="3.5" stroke-linejoin="round" stroke-linecap="round"/>
<path d="M128,422.6 L125.4,432.6" fill="none" stroke="#fce7ca" stroke-width="4" stroke-linejoin="round" stroke-linecap="round"/>
<path d="M121.4,346.7 L172,336" fill="none" stroke="#fce7ca" stroke-width="8" stroke-linejoin="round" stroke-linecap="round"/>
<polygon points="314.5,483 314.5,440 322,420 360,417.5 530,417.5 528,468 556,470 562,481 546.7,478.9 503.7,474.6 466.5,466 455,454.5 437.8,451.7 420.6,457.4 403.4,471.8 360.4,478.9" fill="#fce7ca"/>
<polygon points="366.1,440.2 403.4,428.7 409.1,431.6 409.1,454.5 397.6,466 369,466 364.7,457.4" fill="#7c9431" stroke="#4d6320" stroke-width="0.5" stroke-linejoin="round"/>
<polygon points="361.8,417.3 410,417.3 412,424 363.2,440.2" fill="#7c9431" stroke="#4d6320" stroke-width="0.5" stroke-linejoin="round"/>
<polygon points="446.4,419 530,419 523.8,430 512.3,440 466.5,438 446.4,443.1" fill="#7c9431" stroke="#4d6320" stroke-width="0.5" stroke-linejoin="round"/>
<polygon points="469.3,454.5 489.4,446 512.3,441.6 520.9,466 512.3,471.8 477.9,463.2" fill="#7c9431" stroke="#4d6320" stroke-width="0.5" stroke-linejoin="round"/>
<polygon points="420,440 426,437 432,447 420,447" fill="#7c9431" stroke="#4d6320" stroke-width="0.5" stroke-linejoin="round"/>
<polygon points="528,470 540,471 540,476 528,476" fill="#7c9431" stroke="#4d6320" stroke-width="0.5" stroke-linejoin="round"/>
<polygon points="361.8,417.5 400,417.5 388,432 366,442" fill="#000" opacity="0.18"/>
<polygon points="492,417.5 530,417.5 526,468 514,462 510,440" fill="#000" opacity="0.18"/>
<path d="M268.6,524 L297.3,517.6 Q320,505 346,500.4 Q380,495 403.4,490.4 Q410,484 420.6,474.6 Q428,468 434.9,466 Q445,466 449.3,471.8 Q458,483 466.5,489 Q485,492 503.7,494.7 Q520,500 535.3,506.2 L561,500.4 L580,506.2 L580,480.4 Q560,480 546.7,478.9 Q520,477 503.7,474.6 Q480,472 466.5,466 Q460,456 455,454.5 Q445,450 437.8,451.7 Q428,452 420.6,457.4 Q412,466 403.4,471.8 Q380,477 360.4,478.9 Q330,481 311.6,483.2 L317,440 L322,418 L300,418 L288.7,460.3 Z" fill="#636665" stroke="#3f4242" stroke-width="0.6" stroke-linejoin="round" stroke-linecap="round"/>
<polygon points="420.6,471.8 432,463.2 443.5,463.2 452.1,474.6 437.8,480.4 434.9,524 430.6,524 429.2,480.4" fill="#fce7ca"/>
<rect x="435" y="464" width="5" height="8" fill="#2a2a2a"/>
<path d="M260,494.7 L283,474.6" fill="none" stroke="#fce7ca" stroke-width="4" stroke-linejoin="round" stroke-linecap="round"/>
<polygon points="580.1,525.4 580.1,500.3 590.2,482.8 620.3,462.7 647.9,445.2 655.4,470.2 675.5,472.8 690.5,472.8 700.6,487.8 715.6,495.3 733.2,497.8 733.2,525.4 725.6,525.4 725.6,500.3 713.1,500.3 710.6,525.4 704.3,525.4 693,492.8 675.5,490.3 657.9,489.1 634.1,492.8 632.8,510.4 612.8,512.9 612.8,525.4" fill="#fce7ca"/>
<polygon points="587.7,499 607,497.8 610.2,525.4 587.7,525.4" fill="#7c9431" stroke="#4d6320" stroke-width="0.5" stroke-linejoin="round"/>
<polygon points="592.7,490 612,477.8 617.8,490 600,494" fill="#7c9431" stroke="#4d6320" stroke-width="0.5" stroke-linejoin="round"/>
<polygon points="614,525.4 614,514 636,511 638,494 660,491 675,492 692,496 703,525.4" fill="#7c9431" stroke="#4d6320" stroke-width="0.5" stroke-linejoin="round"/>
<polygon points="714,525.4 715,502 724,502 724,525.4" fill="#7c9431" stroke="#4d6320" stroke-width="0.5" stroke-linejoin="round"/>
<path d="M580,400 L607.7,420" fill="none" stroke="#fce7ca" stroke-width="8" stroke-linejoin="round" stroke-linecap="round"/>
<path d="M778,247 L820,256" fill="none" stroke="#fce7ca" stroke-width="5" stroke-linejoin="round" stroke-linecap="round"/>
<path d="M781,166 Q795,176 813.7,176" fill="none" stroke="#fce7ca" stroke-width="3.5" stroke-linejoin="round" stroke-linecap="round"/>
<path d="M540,306 L575.5,306" fill="none" stroke="#fce7ca" stroke-width="8" stroke-linejoin="round" stroke-linecap="round"/>
<path d="M575,173 L697,173" fill="none" stroke="#fce7ca" stroke-width="3" stroke-linejoin="round" stroke-linecap="round"/>
<polygon points="697,172 707,164.5 717.4,172 714,184.7 700,184.7" fill="#fce7ca"/>
<path d="M867,368.2 Q884,392 852.6,420.6" fill="none" stroke="#fce7ca" stroke-width="3" stroke-linejoin="round" stroke-linecap="round"/>
<path d="M873.5,377 L894.5,381.1 L899.4,411 L873.5,404.5 M899.4,411 L923.5,414.2" fill="none" stroke="#fce7ca" stroke-width="3" stroke-linejoin="round" stroke-linecap="round"/>
<path d="M849.6,524.6 Q862,510 870.8,507.6 Q888,497 896.3,485" fill="none" stroke="#fce7ca" stroke-width="3.5" stroke-linejoin="round" stroke-linecap="round"/>
<path d="M697,174 L506,174 Q437,176 437.5,220 Q439,251 458,252 L456,264.5 L636,264.5 L636,253.5 L472,253.5 Q453.5,250 453.6,218 Q455,183 506,182.3 L688,182.3 Q694,186 700,188 L697,180 Z" fill="#23d2f2" stroke="#1a5a66" stroke-width="0.7" stroke-linejoin="round" stroke-linecap="round"/>
<polygon points="570,274 636,271 636,300 578,300 566,290" fill="#000" opacity="0.2"/>
<polygon points="150,364 164,362 166,400 175,405 158,398" fill="#000" opacity="0.2"/>
<polygon points="688,360 708,359 712,378 700,405 688,400" fill="#000" opacity="0.2"/>
<polygon points="406.7,339 420,339 421.4,358 406.7,358" fill="#000" opacity="0.2"/>
<polygon points="740,372 722,300 718,330 730,380" fill="#000" opacity="0.2"/>
<polygon points="748,236 741,237 738,280 745,287" fill="#000" opacity="0.2"/>
<polygon points="300,104 346,116 346,123 300,112" fill="#7a6c58"/>
<polygon points="303.0,105.0 306.0,106.0 306.0,120.0 303.0,118.0" fill="#5d5244"/>
<polygon points="309.3,106.6 312.3,107.6 312.3,120.4 309.3,118.4" fill="#5d5244"/>
<polygon points="315.6,108.2 318.6,109.2 318.6,120.8 315.6,118.8" fill="#5d5244"/>
<polygon points="321.9,109.8 324.9,110.8 324.9,121.2 321.9,119.2" fill="#5d5244"/>
<polygon points="328.2,111.4 331.2,112.4 331.2,121.6 328.2,119.6" fill="#5d5244"/>
<polygon points="334.5,113.0 337.5,114.0 337.5,122.0 334.5,120.0" fill="#5d5244"/>
<polygon points="340.8,114.6 343.8,115.6 343.8,122.4 340.8,120.4" fill="#5d5244"/>
<polygon points="286,84 300,89 300,104 286,101.9" fill="#8d8f8f" stroke="#4a4c4c" stroke-width="0.6" stroke-linejoin="round"/>
<polygon points="300,89 345,100 345,116 300,105" fill="#9c9e9d" stroke="#4a4c4c" stroke-width="0.6" stroke-linejoin="round"/>
<polygon points="353,93 364,95 367,99 367,110 353,114" fill="#b9bbba" stroke="#4a4c4c" stroke-width="0.6" stroke-linejoin="round"/>
<polygon points="345,100 360,87 362,94 353,107 345,116" fill="#a9abaa" stroke="#4a4c4c" stroke-width="0.6" stroke-linejoin="round"/>
<polygon points="286,84 299,73.4 360,87 350,97 345,100 300,89 293,88" fill="#cbcdcc" stroke="#4a4c4c" stroke-width="0.6" stroke-linejoin="round"/>
<polygon points="375.1,169 445.6,169.9 445.6,186.5 375.1,186" fill="#8d8f8f" stroke="#4a4c4c" stroke-width="0.6" stroke-linejoin="round"/>
<polygon points="452.9,112.8 455,116 448,187 445.6,186.5 445.6,169.9" fill="#a9abaa" stroke="#4a4c4c" stroke-width="0.6" stroke-linejoin="round"/>
<polygon points="388.9,112.3 452.9,112.8 445.6,169.9 375.1,169" fill="#cbcdcc" stroke="#4a4c4c" stroke-width="0.6" stroke-linejoin="round"/>
<polygon points="368,125 377,118 373,169 368,175" fill="#3e4040"/>
<polygon points="386,180 423,180 423,193 386,193" fill="#8d8f8f" stroke="#4a4c4c" stroke-width="0.6" stroke-linejoin="round"/>
<polygon points="386,174 423,174 423,180 386,180" fill="#cbcdcc" stroke="#4a4c4c" stroke-width="0.6" stroke-linejoin="round"/>
<polygon points="453,127 482,127 482,132 453,132" fill="#b9bbba" stroke="#4a4c4c" stroke-width="0.5" stroke-linejoin="round"/>
<polygon points="557.9,148.3 659.5,146.5 659.5,163.4 557.9,163.4" fill="#8d8f8f" stroke="#4a4c4c" stroke-width="0.6" stroke-linejoin="round"/>
<polygon points="557.9,101.3 653.8,102.2 659.5,146.5 557.9,148.3" fill="#d0d2d1" stroke="#4a4c4c" stroke-width="0.6" stroke-linejoin="round"/>
<polygon points="557.9,119 655,119 656,123 557.9,123" fill="#b6b8b7"/>
<polygon points="557.9,136 657.5,136 658,140 557.9,140" fill="#b6b8b7"/>
<polygon points="557.9,163.4 670,163.4 670,171 557.9,171" fill="#c6c8c7" stroke="#4a4c4c" stroke-width="0.6" stroke-linejoin="round"/>
<polygon points="655.7,112.6 665,112.6 665,135 655.7,135" fill="#b9bbba" stroke="#4a4c4c" stroke-width="0.6" stroke-linejoin="round"/>
<polygon points="477,152 557.9,148.3 557.9,163.4 477,163.4" fill="#8d8f8f" stroke="#4a4c4c" stroke-width="0.6" stroke-linejoin="round"/>
<polygon points="476,122 490.1,118.2 492,125.8 501.4,124.8 512.7,112.6 527.7,110.7 529.6,105 537.2,103.2 546.6,100.4 557.9,101.3 557.9,148.3 539,152 477,152" fill="#cbcdcc" stroke="#4a4c4c" stroke-width="0.6" stroke-linejoin="round"/>
<polygon points="531,104 539,102 539,150 531,152" fill="#b5b7b6" stroke="#4a4c4c" stroke-width="0.5" stroke-linejoin="round"/>
<polygon points="539,102 547,100.4 547,149 539,150" fill="#8d8f8f" stroke="#4a4c4c" stroke-width="0.5" stroke-linejoin="round"/>
<polygon points="547,100.4 557.9,101.3 557.9,148.3 547,149" fill="#c3c5c4" stroke="#4a4c4c" stroke-width="0.5" stroke-linejoin="round"/>
<polygon points="501.4,128 508,116 515.7,113.5 524,116 529.6,124 524,129.5 508,129.5" fill="#c9cbca" stroke="#4a4c4c" stroke-width="0.5" stroke-linejoin="round"/>
<path d="M515.7,113.5 L508,129.5" fill="none" stroke="#7a7c7c" stroke-width="0.5" stroke-linejoin="round" stroke-linecap="round"/>
<path d="M515.7,113.5 L513,129.5" fill="none" stroke="#7a7c7c" stroke-width="0.5" stroke-linejoin="round" stroke-linecap="round"/>
<path d="M515.7,113.5 L518,129.5" fill="none" stroke="#7a7c7c" stroke-width="0.5" stroke-linejoin="round" stroke-linecap="round"/>
<path d="M515.7,113.5 L523,129.5" fill="none" stroke="#7a7c7c" stroke-width="0.5" stroke-linejoin="round" stroke-linecap="round"/>
<polygon points="499.5,162 557.9,162 557.9,171 499.5,171" fill="#8d8f8f" stroke="#4a4c4c" stroke-width="0.6" stroke-linejoin="round"/>
<polygon points="499.5,155.9 557.9,155.9 557.9,162 499.5,162" fill="#d0d2d1" stroke="#4a4c4c" stroke-width="0.6" stroke-linejoin="round"/>
<polygon points="308,238.1 322.3,250.6 343.8,248.9 343.8,253 322,255 308,242" fill="#8d8f8f" stroke="#4a4c4c" stroke-width="0.6" stroke-linejoin="round"/>
<polygon points="308,231 313.3,218.4 331.2,214.8 333,205.8 343.8,248.9 322.3,250.6 308,238.1" fill="#c6c8c7" stroke="#4a4c4c" stroke-width="0.6" stroke-linejoin="round"/>
<polygon points="342,191.5 363.5,191.5 363.5,178 385,178 385,191.5 402,191.5 403.8,236.3 383,237 383,215 362,215 350,205 342,204" fill="#d0d2d1" stroke="#4a4c4c" stroke-width="0.6" stroke-linejoin="round"/>
<polygon points="333,205.8 342,204 350,205 362,215 360,250.6 343.8,248.9" fill="#8d8f8f" stroke="#4a4c4c" stroke-width="0.5" stroke-linejoin="round"/>
<polygon points="362,215 383,215 383,250 360,250.6" fill="#9a9c9b" stroke="#4a4c4c" stroke-width="0.5" stroke-linejoin="round"/>
<polygon points="383,215 403.8,215 403.8,236.3 383,237" fill="#a5a7a6" stroke="#4a4c4c" stroke-width="0.5" stroke-linejoin="round"/>
<rect x="365.3" y="180" width="14.3" height="8" rx="0" fill="#b5b7b6" stroke="#4a4c4c" stroke-width="0.5"/>
<rect x="363.5" y="190" width="14.3" height="11" rx="0" fill="#bdbfbe" stroke="#4a4c4c" stroke-width="0.5"/>
<path d="M349,244 Q360,240 374,244 L372,247 Q360,244 350,247 Z" fill="#e8eae9" stroke="#4a4c4c" stroke-width="0.4" stroke-linejoin="round" stroke-linecap="round"/>
<polygon points="214.8,305 284.5,302.2 283,321 216,321" fill="#8d8f8f" stroke="#4a4c4c" stroke-width="0.6" stroke-linejoin="round"/>
<polygon points="292.3,251.8 296.6,256 288,321 283,321 284.5,302.2" fill="#4f5151" stroke="#4a4c4c" stroke-width="0.6" stroke-linejoin="round"/>
<polygon points="233.1,251.8 292.3,251.8 284.5,302.2 214.8,305" fill="#cbcdcc" stroke="#4a4c4c" stroke-width="0.6" stroke-linejoin="round"/>
<path d="M225,305 L225,321" fill="none" stroke="#5f6161" stroke-width="0.8" stroke-linejoin="round" stroke-linecap="round"/>
<path d="M238,305 L238,321" fill="none" stroke="#5f6161" stroke-width="0.8" stroke-linejoin="round" stroke-linecap="round"/>
<path d="M252,305 L252,321" fill="none" stroke="#5f6161" stroke-width="0.8" stroke-linejoin="round" stroke-linecap="round"/>
<path d="M266,305 L266,321" fill="none" stroke="#5f6161" stroke-width="0.8" stroke-linejoin="round" stroke-linecap="round"/>
<polygon points="236,342 318,340 318,348 236,350" fill="#8d8f8f" stroke="#4a4c4c" stroke-width="0.6" stroke-linejoin="round"/>
<polygon points="248,304 300,303 308,298 318,300 318,340 236,342 240,322" fill="#cbcdcc" stroke="#4a4c4c" stroke-width="0.6" stroke-linejoin="round"/>
<polygon points="296,308 306,298 312,304 305,340 296,342" fill="#d3d5d4" stroke="#4a4c4c" stroke-width="0.6" stroke-linejoin="round"/>
<polygon points="306.2,339.4 400,339.4 400,353.9 306.2,353.9" fill="#8d8f8f" stroke="#4a4c4c" stroke-width="0.6" stroke-linejoin="round"/>
<polygon points="400,339.4 406,335 406,350 400,353.9" fill="#a9abaa" stroke="#4a4c4c" stroke-width="0.6" stroke-linejoin="round"/>
<polygon points="314.8,293.1 391.5,293.1 399,290 406,291 406,339.4 306.2,339.4" fill="#cbcdcc" stroke="#4a4c4c" stroke-width="0.6" stroke-linejoin="round"/>
<polygon points="163,364 190,369 232,372 288,364 300,375 320,372 318,408 281,409 233,405 190,401 165,400" fill="#8d8f8f" stroke="#4a4c4c" stroke-width="0.6" stroke-linejoin="round"/>
<polygon points="172,335 185,333 205,331 276,331 300,327 312,327 316,345 320,372 300,375 288,364 232,372 190,369 163,364" fill="#cbcdcc" stroke="#4a4c4c" stroke-width="0.6" stroke-linejoin="round"/>
<path d="M190,369 L190,401" fill="none" stroke="#5f6161" stroke-width="0.8" stroke-linejoin="round" stroke-linecap="round"/>
<path d="M233,372 L233,405" fill="none" stroke="#5f6161" stroke-width="0.8" stroke-linejoin="round" stroke-linecap="round"/>
<path d="M281,366 L281,409" fill="none" stroke="#5f6161" stroke-width="0.8" stroke-linejoin="round" stroke-linecap="round"/>
<polygon points="163,364 190,369 188,401 165,400" fill="#9d9f9e" stroke="#4a4c4c" stroke-width="0.5" stroke-linejoin="round"/>
<polygon points="311,384 325,384 325,454 311,454" fill="#3a3c3c"/>
<polygon points="315.7,375 339.2,375 339.2,384.2 315.7,384.2" fill="#8d8f8f" stroke="#4a4c4c" stroke-width="0.6" stroke-linejoin="round"/>
<polygon points="315.7,351 339.2,351 339.2,375 315.7,375" fill="#c9cbca" stroke="#4a4c4c" stroke-width="0.6" stroke-linejoin="round"/>
<polygon points="325.5,427 354.8,427 354.8,460.6 325.5,460.6" fill="#8d8f8f" stroke="#4a4c4c" stroke-width="0.6" stroke-linejoin="round"/>
<polygon points="354.8,410 362,405 362,455 354.8,460.6" fill="#a9abaa" stroke="#4a4c4c" stroke-width="0.6" stroke-linejoin="round"/>
<polygon points="342.1,346 365.6,347 360.8,410 332.3,410" fill="#cbcdcc" stroke="#4a4c4c" stroke-width="0.6" stroke-linejoin="round"/>
<polygon points="325.5,409.7 354.8,409.7 354.8,427.3 325.5,427.3" fill="#c3c5c4" stroke="#4a4c4c" stroke-width="0.6" stroke-linejoin="round"/>
<polygon points="358.8,386.2 533.4,386.2 533.4,417.5 358.8,417.5" fill="#8d8f8f" stroke="#4a4c4c" stroke-width="0.6" stroke-linejoin="round"/>
<polygon points="358.8,359.7 533.4,359.7 533.4,386.2 358.8,386.2" fill="#cbcdcc" stroke="#4a4c4c" stroke-width="0.6" stroke-linejoin="round"/>
<polygon points="415.5,384.2 425.3,388.1 427.3,437.1 417.5,433.2" fill="#b1b3b2" stroke="#4a4c4c" stroke-width="0.6" stroke-linejoin="round"/>
<polygon points="452.8,388.1 464.5,384.2 466.5,435.1 452.8,437.1" fill="#b1b3b2" stroke="#4a4c4c" stroke-width="0.6" stroke-linejoin="round"/>
<polygon points="425.3,400 452.8,400 452.8,437.1 446.9,443 435.1,443 427.3,437.1" fill="#999b9a" stroke="#4a4c4c" stroke-width="0.6" stroke-linejoin="round"/>
<polygon points="425.3,388.1 452.8,388.1 452.8,400 425.3,400" fill="#c3c5c4" stroke="#4a4c4c" stroke-width="0.6" stroke-linejoin="round"/>
<rect x="433" y="436" width="13" height="7" rx="0" fill="#d9dbda" stroke="#4a4c4c" stroke-width="0.5"/>
<circle cx="439" cy="397" r="1.6" fill="#333"/>
<polygon points="433.2,317.6 444.9,313.7 446.9,303.9 456.7,303.9 458.6,313.7 464.5,317.6 474.3,321.5 475.3,347 478.2,349 478.2,358.8 421.4,358.8 421.4,349 427.3,347 427.3,321.5" fill="#c6c8c7" stroke="#4a4c4c" stroke-width="0.6" stroke-linejoin="round"/>
<path d="M421.4,351 L478.2,351" fill="none" stroke="#8d8f8f" stroke-width="1.5" stroke-linejoin="round" stroke-linecap="round"/>
<path d="M452,306 L452,358" fill="none" stroke="#7d7f7f" stroke-width="0.6" stroke-linejoin="round" stroke-linecap="round"/>
<polygon points="527,432 556,432 556,467.7 527,467.7" fill="#8d8f8f" stroke="#4a4c4c" stroke-width="0.6" stroke-linejoin="round"/>
<polygon points="556,415 561,412 561,462 556,467.7" fill="#a9abaa" stroke="#4a4c4c" stroke-width="0.6" stroke-linejoin="round"/>
<polygon points="533,349 561,349 561,415 527,415" fill="#cbcdcc" stroke="#4a4c4c" stroke-width="0.6" stroke-linejoin="round"/>
<polygon points="527,415 556,415 556,432 527,432" fill="#c3c5c4" stroke="#4a4c4c" stroke-width="0.6" stroke-linejoin="round"/>
<polygon points="563.8,305.5 580.5,300 580.5,395.5 563.8,395.5" fill="#7d6f5f"/>
<polygon points="576.5,284.9 631.4,284.9 631.4,289.8 576.5,289.8" fill="#7d6f5f"/>
<polygon points="639.3,195.8 683,194.5 685.6,189.2 706.8,189.2 708,186.6 736,189.2 746.6,205.1 746.6,213 639.3,213" fill="#c6c8c7" stroke="#4a4c4c" stroke-width="0.6" stroke-linejoin="round"/>
<polygon points="636,213 660,213 660,303 636,303" fill="#a0a2a1" stroke="#4a4c4c" stroke-width="0.6" stroke-linejoin="round"/>
<polygon points="660,213 709,213 709,303 660,303" fill="#8f9191" stroke="#4a4c4c" stroke-width="0.6" stroke-linejoin="round"/>
<polygon points="709,208 746.6,208 746.6,303 709,303" fill="#9a9c9b" stroke="#4a4c4c" stroke-width="0.6" stroke-linejoin="round"/>
<path d="M664,215 L664,303" fill="none" stroke="#6e7070" stroke-width="0.8" stroke-linejoin="round" stroke-linecap="round"/>
<path d="M712,210 L712,303" fill="none" stroke="#6e7070" stroke-width="0.8" stroke-linejoin="round" stroke-linecap="round"/>
<circle cx="676.5" cy="198" r="6" fill="#d8dad9" stroke="#4a4c4c" stroke-width="0.5"/>
<polygon points="685,194 702,192 703,206 685,207" fill="#bcbebd" stroke="#4a4c4c" stroke-width="0.6" stroke-linejoin="round"/>
<polygon points="578.5,289.8 591.2,288.2 602,288.8 642.2,303.5 680,303.5 703.8,303.5 717.6,335.8 707.8,358.3 711.7,377.9 668.6,379.9 662.7,388.7 631.4,377.9 594.2,376 593.2,358.3 580.5,358.3" fill="#cdcfce" stroke="#4a4c4c" stroke-width="0.6" stroke-linejoin="round"/>
<polygon points="580.5,358.3 593.2,358.3 593.2,374 580.5,374" fill="#8d8f8f" stroke="#4a4c4c" stroke-width="0.5" stroke-linejoin="round"/>
<polygon points="593.2,376 631.4,377.9 631.4,397.5 593.2,397.5" fill="#8d8f8f" stroke="#4a4c4c" stroke-width="0.5" stroke-linejoin="round"/>
<polygon points="631.4,377.9 662.7,388.7 662.7,407.3 631.4,397.5" fill="#999b9a" stroke="#4a4c4c" stroke-width="0.5" stroke-linejoin="round"/>
<polygon points="561.9,362.3 581.4,359 581.4,368 561.9,374" fill="#c9cbca" stroke="#4a4c4c" stroke-width="0.5" stroke-linejoin="round"/>
<polygon points="684.3,339.7 703.8,336.8 703.8,342 684.3,345" fill="#8d8f8f" stroke="#4a4c4c" stroke-width="0.6" stroke-linejoin="round"/>
<polygon points="675,300 680.3,297.6 684.3,345 679,343" fill="#7d7f7f" stroke="#4a4c4c" stroke-width="0.6" stroke-linejoin="round"/>
<polygon points="680.3,297.6 699.9,297.6 703.8,336.8 684.3,339.7" fill="#cbcdcc" stroke="#4a4c4c" stroke-width="0.6" stroke-linejoin="round"/>
<polygon points="740.2,372.1 793.4,370.8 793.4,381 740.2,381" fill="#8d8f8f" stroke="#4a4c4c" stroke-width="0.6" stroke-linejoin="round"/>
<polygon points="726.3,288.4 740.2,372.1 740.2,381 722,300" fill="#8d8f8f" stroke="#4a4c4c" stroke-width="0.6" stroke-linejoin="round"/>
<polygon points="726.3,288.4 771.9,288.4 793.4,370.8 740.2,372.1" fill="#cbcdcc" stroke="#4a4c4c" stroke-width="0.6" stroke-linejoin="round"/>
<polygon points="668,412.6 813.7,408.8 810,446 668,446" fill="#8d8f8f" stroke="#4a4c4c" stroke-width="0.6" stroke-linejoin="round"/>
<polygon points="668,379.7 809.9,378.4 813.7,408.8 668,412.6" fill="#cbcdcc" stroke="#4a4c4c" stroke-width="0.6" stroke-linejoin="round"/>
<path d="M760,410 L760,440" fill="none" stroke="#5f6161" stroke-width="0.8" stroke-linejoin="round" stroke-linecap="round"/>
<path d="M700,412 L700,440" fill="none" stroke="#5f6161" stroke-width="0.8" stroke-linejoin="round" stroke-linecap="round"/>
<polygon points="667,405 700.6,405 700.6,430 667,430" fill="#a9abaa" stroke="#4a4c4c" stroke-width="0.6" stroke-linejoin="round"/>
<path d="M680,405 L680,430" fill="none" stroke="#6e7070" stroke-width="0.6" stroke-linejoin="round" stroke-linecap="round"/>
<polygon points="657,440 662,428 680,422 698,428 702,440 701.8,462 685,470.2 662,468 655.4,458" fill="#a9abaa" stroke="#4a4c4c" stroke-width="0.6" stroke-linejoin="round"/>
<ellipse cx="680" cy="437" rx="19.5" ry="13" fill="#d2d4d3" stroke="#4a4c4c" stroke-width="0.6"/>
<polygon points="614,476 625,476 625,492 614,492" fill="#c9cbca" stroke="#4a4c4c" stroke-width="0.6" stroke-linejoin="round"/>
<polygon points="648,476 657,476 657,490 648,490" fill="#c9cbca" stroke="#4a4c4c" stroke-width="0.6" stroke-linejoin="round"/>
<polygon points="625,484 648,484 648,493 625,493" fill="#a3a5a4" stroke="#4a4c4c" stroke-width="0.6" stroke-linejoin="round"/>
<polygon points="625,471 648,471 648,484 625,484" fill="#d3d5d4" stroke="#4a4c4c" stroke-width="0.6" stroke-linejoin="round"/>
<polygon points="697,474 710,474 710,488 697,488" fill="#c9cbca" stroke="#4a4c4c" stroke-width="0.6" stroke-linejoin="round"/>
<polygon points="710,482 736,482 736,490 710,490" fill="#a3a5a4" stroke="#4a4c4c" stroke-width="0.6" stroke-linejoin="round"/>
<polygon points="710,471 736,471 736,482 710,482" fill="#d3d5d4" stroke="#4a4c4c" stroke-width="0.6" stroke-linejoin="round"/>
<circle cx="724" cy="489" r="3" fill="#d3d5d4" stroke="#4a4c4c" stroke-width="0.5"/>
<polygon points="113,396 143,396 143,410 113,410" fill="#8d8f8f" stroke="#4a4c4c" stroke-width="0.6" stroke-linejoin="round"/>
<polygon points="118,388 140,388 143,396 115,396" fill="#cbcdcc" stroke="#4a4c4c" stroke-width="0.6" stroke-linejoin="round"/>
<polygon points="116,418 140,418 140,426 116,426" fill="#8d8f8f" stroke="#4a4c4c" stroke-width="0.6" stroke-linejoin="round"/>
<polygon points="116,410 140,410 140,418 116,418" fill="#cbcdcc" stroke="#4a4c4c" stroke-width="0.6" stroke-linejoin="round"/>
<polygon points="140,414 165,414 165,428 140,428" fill="#8d8f8f" stroke="#4a4c4c" stroke-width="0.6" stroke-linejoin="round"/>
<polygon points="142,406 162,406 165,414 140,414" fill="#cbcdcc" stroke="#4a4c4c" stroke-width="0.6" stroke-linejoin="round"/>
<polygon points="726.7,82 735,78 745,78 745,165.4 726.7,160" fill="#8f9191" stroke="#4a4c4c" stroke-width="0.6" stroke-linejoin="round"/>
<polygon points="745,78 766,79 766,165.4 745,165.4" fill="#9c9e9d" stroke="#4a4c4c" stroke-width="0.6" stroke-linejoin="round"/>
<polygon points="766,83 773,86 773,162 766,165.4" fill="#b5b7b6" stroke="#4a4c4c" stroke-width="0.6" stroke-linejoin="round"/>
<polygon points="733,80 740,79 740,163 733,162" fill="#b9bbba" stroke="#4a4c4c" stroke-width="0.4" stroke-linejoin="round"/>
<polygon points="752,79 760,80 760,165 752,165" fill="#b9bbba" stroke="#4a4c4c" stroke-width="0.4" stroke-linejoin="round"/>
<polygon points="749,160 754.5,156 754.5,239.5 749,236" fill="#8f9191" stroke="#4a4c4c" stroke-width="0.5" stroke-linejoin="round"/>
<polygon points="754.5,156 776,156 781,172 754.5,172" fill="#cdcfce" stroke="#4a4c4c" stroke-width="0.6" stroke-linejoin="round"/>
<polygon points="776,156 781,160 783,176 781,172" fill="#8f9191" stroke="#4a4c4c" stroke-width="0.5" stroke-linejoin="round"/>
<polygon points="752,172 781,172 783.6,190 783.6,213 752,213" fill="#c9cbca" stroke="#4a4c4c" stroke-width="0.6" stroke-linejoin="round"/>
<polygon points="777,174 783.6,178 783.6,190 779,186" fill="#7d7f7f" stroke="#4a4c4c" stroke-width="0.5" stroke-linejoin="round"/>
<polygon points="754.5,213 781,213 785,222 785,239.5 754.5,239.5" fill="#cdcfce" stroke="#4a4c4c" stroke-width="0.6" stroke-linejoin="round"/>
<polygon points="779,215 785,222 785,236 780,230" fill="#7d7f7f" stroke="#4a4c4c" stroke-width="0.5" stroke-linejoin="round"/>
<polygon points="741,236.9 778,236.9 781,265 775,268 775,287.2 745,287.2 741,270" fill="#c9cbca" stroke="#4a4c4c" stroke-width="0.6" stroke-linejoin="round"/>
<polygon points="775,262 783.6,266 783.6,287.2 775,287.2" fill="#7d7f7f" stroke="#4a4c4c" stroke-width="0.5" stroke-linejoin="round"/>
<polygon points="957.4,420 972,428 991.3,431 991.3,443.2 972,441.6 957.4,427" fill="#8d8f8f" stroke="#4a4c4c" stroke-width="0.6" stroke-linejoin="round"/>
<polygon points="959,394.8 970.3,395.6 972,394 982.4,396.5 983.2,407.7 992.9,415 991.3,431 972,428 957.4,420" fill="#cdcfce" stroke="#4a4c4c" stroke-width="0.6" stroke-linejoin="round"/>
<polygon points="950,405 957.4,402 957.4,427 950,425" fill="#3d4a20"/>
<rect x="314.7" y="77.5" width="27.900000000000034" height="19.200000000000003" rx="3.5" fill="#000" opacity="0.25"/>
<rect x="313.7" y="76.3" width="27.900000000000034" height="19.200000000000003" rx="3.5" fill="#8e3350"/>
<text x="327.65" y="89.68" text-anchor="middle" font-size="10.5" font-weight="bold" fill="#fff">960</text>
<rect x="402.2" y="129.6" width="28.5" height="19.799999999999983" rx="3.5" fill="#000" opacity="0.25"/>
<rect x="401.2" y="128.4" width="28.5" height="19.799999999999983" rx="3.5" fill="#8e3350"/>
<text x="415.45" y="142.26000000000002" text-anchor="middle" font-size="11" font-weight="bold" fill="#fff">DC</text>
<rect x="516.2" y="131.39999999999998" width="27.09999999999991" height="19.0" rx="3.5" fill="#000" opacity="0.25"/>
<rect x="515.2" y="130.2" width="27.09999999999991" height="19.0" rx="3.5" fill="#8e3350"/>
<text x="528.75" y="143.66" text-anchor="middle" font-size="11" font-weight="bold" fill="#fff">HC</text>
<rect x="737.4" y="80.8" width="26.600000000000023" height="17.700000000000003" rx="3.5" fill="#000" opacity="0.25"/>
<rect x="736.4" y="79.6" width="26.600000000000023" height="17.700000000000003" rx="3.5" fill="#8e3350"/>
<text x="749.7" y="92.40999999999998" text-anchor="middle" font-size="11" font-weight="bold" fill="#fff">RR</text>
<rect x="759" y="185.89999999999998" width="27.799999999999955" height="16.5" rx="3.5" fill="#000" opacity="0.25"/>
<rect x="758" y="184.7" width="27.799999999999955" height="16.5" rx="3.5" fill="#8e3350"/>
<text x="771.9" y="196.91" text-anchor="middle" font-size="11" font-weight="bold" fill="#fff">VR</text>
<rect x="365.9" y="207.5" width="27.900000000000034" height="19.0" rx="3.5" fill="#000" opacity="0.25"/>
<rect x="364.9" y="206.3" width="27.900000000000034" height="19.0" rx="3.5" fill="#8e3350"/>
<text x="378.85" y="219.76000000000002" text-anchor="middle" font-size="11" font-weight="bold" fill="#fff">SC</text>
<rect x="675.3" y="227.5" width="27.90000000000009" height="19.5" rx="3.5" fill="#000" opacity="0.25"/>
<rect x="674.3" y="226.3" width="27.90000000000009" height="19.5" rx="3.5" fill="#6b2238"/>
<text x="688.25" y="240.01000000000002" text-anchor="middle" font-size="11" font-weight="bold" fill="#fff">LR</text>
<rect x="753.9" y="245.29999999999998" width="27.800000000000068" height="20.200000000000017" rx="3.5" fill="#000" opacity="0.25"/>
<rect x="752.9" y="244.1" width="27.800000000000068" height="20.200000000000017" rx="3.5" fill="#8e3350"/>
<text x="766.8" y="258.15999999999997" text-anchor="middle" font-size="11" font-weight="bold" fill="#fff">L</text>
<rect x="240.2" y="264.8" width="27.900000000000034" height="19.19999999999999" rx="3.5" fill="#000" opacity="0.25"/>
<rect x="239.2" y="263.6" width="27.900000000000034" height="19.19999999999999" rx="3.5" fill="#8e3350"/>
<text x="253.15" y="277.16" text-anchor="middle" font-size="11" font-weight="bold" fill="#fff">B</text>
<rect x="245.3" y="307.4" width="27.80000000000001" height="19.0" rx="3.5" fill="#000" opacity="0.25"/>
<rect x="244.3" y="306.2" width="27.80000000000001" height="19.0" rx="3.5" fill="#8e3350"/>
<text x="258.20000000000005" y="319.65999999999997" text-anchor="middle" font-size="11" font-weight="bold" fill="#fff">AT</text>
<rect x="343.8" y="304.8" width="27.899999999999977" height="19.0" rx="3.5" fill="#000" opacity="0.25"/>
<rect x="342.8" y="303.6" width="27.899999999999977" height="19.0" rx="3.5" fill="#8e3350"/>
<text x="356.75" y="316.88" text-anchor="middle" font-size="10.5" font-weight="bold" fill="#fff">PPL</text>
<rect x="439.4" y="325.09999999999997" width="29.100000000000023" height="19.0" rx="3.5" fill="#000" opacity="0.25"/>
<rect x="438.4" y="323.9" width="29.100000000000023" height="19.0" rx="3.5" fill="#8e3350"/>
<text x="452.95" y="337.35999999999996" text-anchor="middle" font-size="11" font-weight="bold" fill="#fff">ME</text>
<rect x="620.8" y="320.0" width="27.90000000000009" height="19.0" rx="3.5" fill="#000" opacity="0.25"/>
<rect x="619.8" y="318.8" width="27.90000000000009" height="19.0" rx="3.5" fill="#8e3350"/>
<text x="633.75" y="332.26" text-anchor="middle" font-size="11" font-weight="bold" fill="#fff">LA</text>
<rect x="703.2" y="311.2" width="27.899999999999977" height="19" rx="3.5" fill="#000" opacity="0.25"/>
<rect x="702.2" y="310" width="27.899999999999977" height="19" rx="3.5" fill="#8e3350"/>
<text x="716.1500000000001" y="323.46" text-anchor="middle" font-size="11" font-weight="bold" fill="#fff">AG</text>
<rect x="745" y="320.0" width="28.600000000000023" height="19.0" rx="3.5" fill="#000" opacity="0.25"/>
<rect x="744" y="318.8" width="28.600000000000023" height="19.0" rx="3.5" fill="#8e3350"/>
<text x="758.3" y="332.26" text-anchor="middle" font-size="11" font-weight="bold" fill="#fff">SH</text>
<rect x="219.9" y="340.3" width="27.900000000000006" height="19.799999999999955" rx="3.5" fill="#000" opacity="0.25"/>
<rect x="218.9" y="339.1" width="27.900000000000006" height="19.799999999999955" rx="3.5" fill="#8e3350"/>
<text x="232.85000000000002" y="352.96" text-anchor="middle" font-size="11" font-weight="bold" fill="#fff">S</text>
<rect x="435.1" y="364.4" width="28.399999999999977" height="18.19999999999999" rx="3.5" fill="#000" opacity="0.25"/>
<rect x="434.1" y="363.2" width="28.399999999999977" height="18.19999999999999" rx="3.5" fill="#8e3350"/>
<text x="448.3" y="376.25999999999993" text-anchor="middle" font-size="11" font-weight="bold" fill="#fff">MM</text>
<rect x="119.8" y="374.5" width="26.60000000000001" height="15.199999999999989" rx="3.5" fill="#000" opacity="0.25"/>
<rect x="118.8" y="373.3" width="26.60000000000001" height="15.199999999999989" rx="3.5" fill="#6e2a2e"/>
<text x="132.1" y="384.67999999999995" text-anchor="middle" font-size="10.5" font-weight="bold" fill="#fff">5960</text>
<rect x="733.6" y="387.2" width="27.899999999999977" height="19" rx="3.5" fill="#000" opacity="0.25"/>
<rect x="732.6" y="386" width="27.899999999999977" height="19" rx="3.5" fill="#8e3350"/>
<text x="746.55" y="399.46" text-anchor="middle" font-size="11" font-weight="bold" fill="#fff">SB</text>
<rect x="327.9" y="399.9" width="27.900000000000034" height="18.5" rx="3.5" fill="#000" opacity="0.25"/>
<rect x="326.9" y="398.7" width="27.900000000000034" height="18.5" rx="3.5" fill="#8e3350"/>
<text x="340.85" y="411.90999999999997" text-anchor="middle" font-size="11" font-weight="bold" fill="#fff">MN</text>
<rect x="530.6" y="399.9" width="27.899999999999977" height="18.5" rx="3.5" fill="#000" opacity="0.25"/>
<rect x="529.6" y="398.7" width="27.899999999999977" height="18.5" rx="3.5" fill="#8e3350"/>
<text x="543.55" y="411.90999999999997" text-anchor="middle" font-size="11" font-weight="bold" fill="#fff">MS</text>
<rect x="979.6" y="418.9" width="28.5" height="20.0" rx="3.5" fill="#000" opacity="0.25"/>
<rect x="978.6" y="417.7" width="28.5" height="20.0" rx="3.5" fill="#6a2a28"/>
<text x="992.85" y="431.65999999999997" text-anchor="middle" font-size="11" font-weight="bold" fill="#fff">O</text>
<rect x="620" y="455.9" width="28.399999999999977" height="19.30000000000001" rx="3.5" fill="#000" opacity="0.25"/>
<rect x="619" y="454.7" width="28.399999999999977" height="19.30000000000001" rx="3.5" fill="#7a2a38"/>
<text x="633.2" y="468.13" text-anchor="middle" font-size="10.5" font-weight="bold" fill="#fff">883</text>
<rect x="708.6" y="455.9" width="28.100000000000023" height="19.30000000000001" rx="3.5" fill="#000" opacity="0.25"/>
<rect x="707.6" y="454.7" width="28.100000000000023" height="19.30000000000001" rx="3.5" fill="#5e2a1e"/>
<text x="721.6500000000001" y="468.13" text-anchor="middle" font-size="10.5" font-weight="bold" fill="#fff">867</text>
<circle cx="280.0" cy="139" r="10.5" fill="#000" opacity="0.3"/>
<circle cx="279.2" cy="138" r="10.5" fill="#7db00e"/>
<polygon points="278.9,132.5 281.4,132.5 281.4,143.3 278.9,143.3 278.9,135.6 276.3,137.0 276.3,134.7" fill="#fff"/>
<circle cx="256.6" cy="204.3" r="10.5" fill="#000" opacity="0.3"/>
<circle cx="255.8" cy="203.3" r="10.5" fill="#7db00e"/>
<text x="255.8" y="208.5" text-anchor="middle" font-size="14.5" font-weight="bold" fill="#fff">2</text>
<circle cx="176.8" cy="460.7" r="10.5" fill="#000" opacity="0.3"/>
<circle cx="176" cy="459.7" r="10.5" fill="#7db00e"/>
<text x="176" y="464.9" text-anchor="middle" font-size="14.5" font-weight="bold" fill="#fff">3</text>
<circle cx="526.0999999999999" cy="326.9" r="10.5" fill="#000" opacity="0.3"/>
<circle cx="525.3" cy="325.9" r="10.5" fill="#7db00e"/>
<text x="525.3" y="331.09999999999997" text-anchor="middle" font-size="14.5" font-weight="bold" fill="#fff">4</text>
<circle cx="353.6" cy="492.6" r="10.5" fill="#000" opacity="0.3"/>
<circle cx="352.8" cy="491.6" r="10.5" fill="#7db00e"/>
<text x="352.8" y="496.8" text-anchor="middle" font-size="14.5" font-weight="bold" fill="#fff">5</text>
<circle cx="506.1" cy="492.6" r="10.5" fill="#000" opacity="0.3"/>
<circle cx="505.3" cy="491.6" r="10.5" fill="#7db00e"/>
<text x="505.3" y="496.8" text-anchor="middle" font-size="14.5" font-weight="bold" fill="#fff">5</text>
<circle cx="791.6999999999999" cy="492.6" r="10.5" fill="#000" opacity="0.3"/>
<circle cx="790.9" cy="491.6" r="10.5" fill="#7db00e"/>
<text x="790.9" y="496.8" text-anchor="middle" font-size="14.5" font-weight="bold" fill="#fff">6</text>
<circle cx="917.4" cy="461.6" r="10.5" fill="#000" opacity="0.3"/>
<circle cx="916.6" cy="460.6" r="10.5" fill="#7db00e"/>
<text x="916.6" y="465.8" text-anchor="middle" font-size="14.5" font-weight="bold" fill="#fff">7</text>
<circle cx="786.0999999999999" cy="141.9" r="10.5" fill="#000" opacity="0.3"/>
<circle cx="785.3" cy="140.9" r="10.5" fill="#7db00e"/>
<text x="785.3" y="146.1" text-anchor="middle" font-size="14.5" font-weight="bold" fill="#fff">8</text>
<circle cx="684.5" cy="141.9" r="10.5" fill="#000" opacity="0.3"/>
<circle cx="683.7" cy="140.9" r="10.5" fill="#7db00e"/>
<text x="683.7" y="146.1" text-anchor="middle" font-size="14.5" font-weight="bold" fill="#fff">9</text>
<circle cx="466.6" cy="103.4" r="10.5" fill="#000" opacity="0.3"/>
<circle cx="465.8" cy="102.4" r="10.5" fill="#7db00e"/>
<polygon points="460.9,96.9 463.4,96.9 463.4,107.7 460.9,107.7 460.9,100.0 458.3,101.4 458.3,99.10000000000001" fill="#fff"/>
<text x="468.6" y="107.7" text-anchor="middle" font-size="14.5" font-weight="bold" fill="#fff">0</text>
<text x="473.9" y="83.9" font-size="12" font-weight="bold" fill="#2f2f2f">Tower Road</text>
<text x="65.6" y="259.3" font-size="12" font-weight="bold" fill="#2f2f2f">Inglis Street</text>
<text x="838.6" y="258.6" font-size="12" font-weight="bold" fill="#2f2f2f">Gorsebrook</text>
<text x="850.9" y="270.9" font-size="12" font-weight="bold" fill="#2f2f2f">Avenue</text>
<text x="465.6" y="552.5" font-size="12" font-weight="bold" fill="#2f2f2f">Robie Street</text>
<path d="M48,181.2 L110,181.2" fill="none" stroke="#333" stroke-width="1.2" stroke-linejoin="round" stroke-linecap="round"/>
<polygon points="43,181.2 51,178 51,184.4" fill="#333"/>
<circle cx="78" cy="181.2" r="9.5" fill="#fff" stroke="#333" stroke-width="1.2"/>
<text x="78" y="185.6" text-anchor="middle" font-size="12" font-weight="bold" fill="#222">N</text>
<!--/MAP-->
</svg>
<div class="h" style="left:48px;top:592px;font-size:19.5px;letter-spacing:-0.3px;color:#2a2a2a;">Buildings</div>
<div style="position:absolute;left:48px;top:616px;width:671px;height:2px;background:#555;"></div>
<div style="position:absolute;left:729px;top:585px;width:351px;height:34px;background:#80bc00;"></div>
<div class="h" style="left:749px;top:592px;font-size:19.5px;letter-spacing:-0.5px;color:#fff;">Parking</div>
<!--LEGEND-->
<div class="c" style="left:48.5px;top:633.8px">AG</div>
<div class="t" style="left:93px;top:633.3px">Art Gallery</div>
<div class="c" style="left:48.5px;top:651.6px">AT</div>
<div class="t" style="left:93px;top:651.1px">Atrium</div>
<div class="c" style="left:48.5px;top:669.4px">B</div>
<div class="t" style="left:93px;top:668.9px">Burke Building</div>
<div class="c" style="left:48.5px;top:687.2px">DC</div>
<div class="t" style="left:93px;top:686.7px">The Dauphinee Centre</div>
<div class="c" style="left:48.5px;top:705.0px">HC</div>
<div class="t" style="left:93px;top:704.5px">Homburg Centre for Health<br>&amp; Wellness</div>
<div class="c" style="left:48.5px;top:736.1px">L</div>
<div class="t" style="left:93px;top:735.6px">Link Building</div>
<div class="c" style="left:48.5px;top:753.9px">LA</div>
<div class="t" style="left:93px;top:753.4px">Loyola Academic Complex</div>
<div class="c" style="left:48.5px;top:771.7px">LR</div>
<div class="t" style="left:93px;top:771.2px">Loyola Residence</div>
<div class="c" style="left:48.5px;top:789.5px">ME</div>
<div class="t" style="left:93px;top:789.0px">McNally East</div>
<div class="c" style="left:48.5px;top:807.3px">MM</div>
<div class="t" style="left:93px;top:806.8px">McNally Main</div>
<div class="c" style="left:48.5px;top:825.1px">MN</div>
<div class="t" style="left:93px;top:824.6px">McNally North</div>
<div class="c" style="left:48.5px;top:842.9px">MS</div>
<div class="t" style="left:93px;top:842.4px">McNally South</div>
<div class="c" style="left:398.5px;top:633.8px">O</div>
<div class="t" style="left:443px;top:633.3px">The Oaks</div>
<div class="c" style="left:398.5px;top:651.6px">PPL</div>
<div class="t" style="left:443px;top:651.1px">Patrick Power Library</div>
<div class="c" style="left:398.5px;top:669.4px">RR</div>
<div class="t" style="left:443px;top:668.9px">Rice Residence</div>
<div class="c" style="left:398.5px;top:687.2px">S</div>
<div class="t" style="left:443px;top:686.7px">Science Building</div>
<div class="c" style="left:398.5px;top:705.0px">SB</div>
<div class="t" style="left:443px;top:704.5px">Sobey Building</div>
<div class="c" style="left:398.5px;top:722.8px">SC</div>
<div class="t" style="left:443px;top:722.3px">O’Donnell Hennessey<br>Student Centre</div>
<div class="c" style="left:398.5px;top:753.9px">SH</div>
<div class="t" style="left:443px;top:753.4px">Sobeys Inspiration Hub</div>
<div class="c" style="left:398.5px;top:771.7px">VR</div>
<div class="t" style="left:443px;top:771.2px">Vanier Residence</div>
<div class="c" style="left:398.5px;top:789.5px">867</div>
<div class="t" style="left:443px;top:789.0px">867 Robie Street</div>
<div class="c" style="left:398.5px;top:807.3px">883</div>
<div class="t" style="left:443px;top:806.8px">883 Robie Street</div>
<div class="c" style="left:398.5px;top:825.1px">960</div>
<div class="t" style="left:443px;top:824.6px">960 Tower Road</div>
<div class="c" style="left:398.5px;top:842.9px">5960</div>
<div class="t" style="left:443px;top:842.4px">5960 Inglis Street</div>
<div class="c" style="left:748px;top:633.6px">1.</div>
<div class="t" style="left:779px;top:633.1px">Arena: General, Meters, Accessible</div>
<div class="c" style="left:748px;top:651.4px">2.</div>
<div class="t" style="left:779px;top:650.9px">Inglis Street: General,<br>Pay &amp; Display</div>
<div class="c" style="left:748px;top:682.5px">3.</div>
<div class="t" style="left:779px;top:682.0px">Science: General, Meters, Faculty, Accessible</div>
<div class="c" style="left:748px;top:700.3px">4.</div>
<div class="t" style="left:779px;top:699.8px">McNally East: Meters, Accessible</div>
<div class="c" style="left:748px;top:718.1px">5.</div>
<div class="t" style="left:779px;top:717.6px">McNally Main: Faculty, Accessible</div>
<div class="c" style="left:748px;top:735.9px">6.</div>
<div class="t" style="left:779px;top:735.4px">Sobey/Gorsebrook: General, Faculty, Accessible</div>
<div class="c" style="left:748px;top:753.7px">7.</div>
<div class="t" style="left:779px;top:753.2px">Oaks: General</div>
<div class="c" style="left:748px;top:771.5px">8.</div>
<div class="t" style="left:779px;top:771.0px">Rice: General, Meters, Accessible</div>
<div class="c" style="left:748px;top:789.3px">9.</div>
<div class="t" style="left:779px;top:788.8px">Homburg Members Parking Only</div>
<div class="c" style="left:748px;top:807.1px">10.</div>
<div class="t" style="left:779px;top:806.6px">Tower Road: Meters, Accessible</div>
<!--/LEGEND-->
</body></html>
